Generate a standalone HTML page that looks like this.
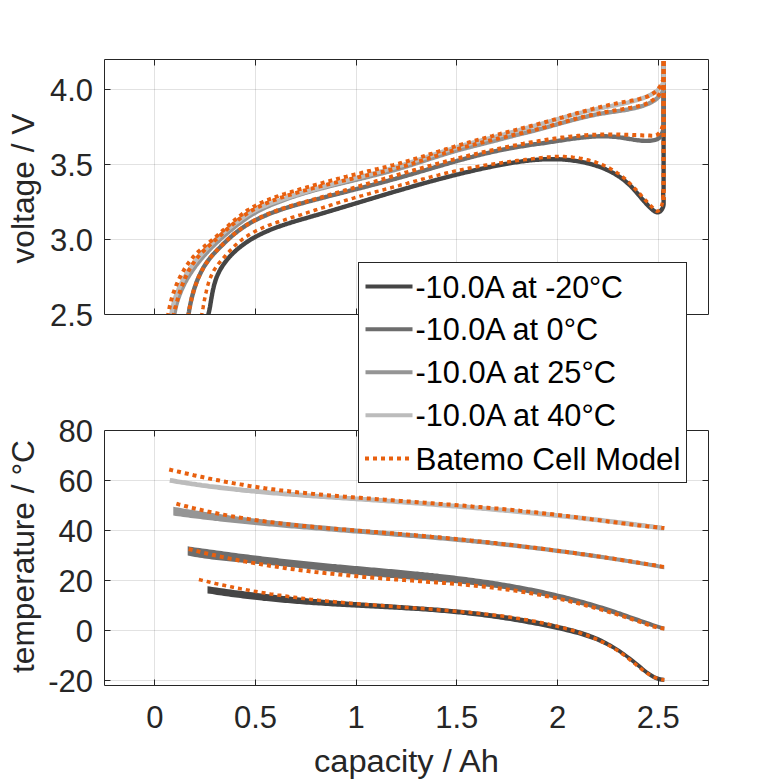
<!DOCTYPE html>
<html><head><meta charset="utf-8"><title>chart</title>
<style>html,body{margin:0;padding:0;background:#fff}svg{display:block}</style></head>
<body>
<svg width="781" height="781" viewBox="0 0 781 781">
<rect width="781" height="781" fill="#fff"/>
<defs><clipPath id="c1"><rect x="104.5" y="59.5" width="604" height="255"/></clipPath><clipPath id="c2"><rect x="104.5" y="430.5" width="604" height="255"/></clipPath></defs>
<path d="M154.5,59.5V314.5M154.5,430.5V685.5M255.5,59.5V314.5M255.5,430.5V685.5M356.5,59.5V314.5M356.5,430.5V685.5M456.5,59.5V314.5M456.5,430.5V685.5M557.5,59.5V314.5M557.5,430.5V685.5M658.5,59.5V314.5M658.5,430.5V685.5" stroke="#262626" stroke-opacity="0.135" stroke-width="1" fill="none"/>
<path d="M104.5,239.5H708.5M104.5,164.5H708.5M104.5,89.5H708.5M104.5,480.5H708.5M104.5,530.5H708.5M104.5,580.5H708.5M104.5,630.5H708.5M104.5,680.5H708.5" stroke="#262626" stroke-opacity="0.135" stroke-width="1" fill="none"/>
<g clip-path="url(#c1)" fill="none" stroke-linejoin="round">
<path d="M207.8,317.0 L208.1,315.7 L208.4,314.4 L208.7,313.1 L209.0,311.8 L209.3,310.4 L209.6,309.1 L209.8,307.7 L210.1,306.4 L210.3,305.0 L210.5,303.6 L210.8,302.2 L211.0,300.8 L211.2,299.4 L211.5,298.0 L211.7,296.6 L212.0,295.2 L212.2,293.8 L212.5,292.4 L212.8,291.0 L213.0,289.7 L213.4,288.3 L213.7,286.9 L214.0,285.5 L214.4,284.2 L214.8,282.8 L215.2,281.5 L215.6,280.1 L216.1,278.8 L216.5,277.5 L217.1,276.2 L217.6,275.0 L218.2,273.7 L218.8,272.5 L219.4,271.2 L220.1,270.0 L220.7,268.8 L221.4,267.7 L222.2,266.5 L222.9,265.3 L223.7,264.2 L224.5,263.1 L225.3,262.0 L226.2,260.9 L227.0,259.8 L227.9,258.7 L228.8,257.7 L229.7,256.6 L230.7,255.6 L231.6,254.6 L232.6,253.6 L233.6,252.7 L234.6,251.7 L235.7,250.8 L236.7,249.8 L237.8,248.9 L238.8,248.0 L239.9,247.2 L241.0,246.3 L242.1,245.5 L243.2,244.6 L244.4,243.8 L245.5,243.0 L246.6,242.2 L247.8,241.5 L249.0,240.7 L250.1,240.0 L251.3,239.2 L252.5,238.5 L253.7,237.8 L254.9,237.2 L256.1,236.5 L257.3,235.9 L258.6,235.2 L259.8,234.6 L261.0,234.0 L262.3,233.4 L263.5,232.8 L264.8,232.2 L266.0,231.7 L267.3,231.1 L268.6,230.6 L269.8,230.0 L271.1,229.5 L272.4,229.0 L273.7,228.5 L275.0,228.0 L276.3,227.5 L277.6,227.0 L278.9,226.6 L280.2,226.1 L281.5,225.7 L282.8,225.2 L284.2,224.8 L285.5,224.3 L286.8,223.9 L288.1,223.5 L289.5,223.1 L290.8,222.6 L292.1,222.2 L293.5,221.8 L294.8,221.4 L296.1,221.0 L297.5,220.6 L298.8,220.2 L300.2,219.8 L301.5,219.4 L302.8,219.0 L304.2,218.7 L305.5,218.3 L306.9,217.9 L308.2,217.5 L309.6,217.1 L310.9,216.7 L312.2,216.3 L313.6,215.9 L314.9,215.5 L316.3,215.2 L317.6,214.8 L318.9,214.4 L320.3,214.0 L321.6,213.6 L323.0,213.2 L324.3,212.8 L325.6,212.4 L327.0,212.0 L328.3,211.6 L329.6,211.2 L331.0,210.8 L332.3,210.4 L333.7,210.0 L335.0,209.6 L336.3,209.2 L337.7,208.8 L339.0,208.4 L340.3,208.0 L341.7,207.6 L343.0,207.2 L344.3,206.8 L345.7,206.4 L347.0,206.0 L348.3,205.6 L349.6,205.2 L351.0,204.8 L352.3,204.4 L353.6,204.0 L355.0,203.6 L356.3,203.2 L357.6,202.8 L359.0,202.4 L360.3,202.0 L361.6,201.6 L362.9,201.2 L364.3,200.8 L365.6,200.4 L366.9,200.0 L368.3,199.6 L369.6,199.2 L370.9,198.8 L372.3,198.4 L373.6,198.0 L374.9,197.6 L376.2,197.2 L377.6,196.8 L378.9,196.4 L380.2,196.0 L381.6,195.6 L382.9,195.2 L384.2,194.8 L385.5,194.4 L386.9,194.0 L388.2,193.6 L389.5,193.2 L390.9,192.8 L392.2,192.4 L393.5,192.0 L394.8,191.6 L396.2,191.2 L397.5,190.8 L398.8,190.5 L400.2,190.1 L401.5,189.7 L402.8,189.3 L404.2,188.9 L405.5,188.5 L406.8,188.1 L408.1,187.8 L409.5,187.4 L410.8,187.0 L412.1,186.6 L413.5,186.2 L414.8,185.8 L416.1,185.5 L417.5,185.1 L418.8,184.7 L420.1,184.3 L421.5,184.0 L422.8,183.6 L424.1,183.2 L425.5,182.9 L426.8,182.5 L428.2,182.1 L429.5,181.7 L430.8,181.4 L432.2,181.0 L433.5,180.7 L434.8,180.3 L436.2,179.9 L437.5,179.6 L438.9,179.2 L440.2,178.9 L441.5,178.5 L442.9,178.2 L444.2,177.8 L445.6,177.5 L446.9,177.1 L448.2,176.8 L449.6,176.4 L450.9,176.1 L452.3,175.7 L453.6,175.4 L455.0,175.1 L456.3,174.7 L457.7,174.4 L459.0,174.1 L460.4,173.7 L461.7,173.4 L463.1,173.1 L464.4,172.7 L465.8,172.4 L467.1,172.1 L468.5,171.8 L469.8,171.5 L471.2,171.2 L472.5,170.8 L473.9,170.5 L475.2,170.2 L476.6,169.9 L477.9,169.6 L479.3,169.3 L480.7,169.0 L482.0,168.7 L483.4,168.4 L484.7,168.1 L486.1,167.8 L487.5,167.5 L488.8,167.2 L490.2,167.0 L491.6,166.7 L492.9,166.4 L494.3,166.1 L495.7,165.8 L497.0,165.6 L498.4,165.3 L499.8,165.0 L501.1,164.8 L502.5,164.5 L503.9,164.3 L505.3,164.0 L506.6,163.8 L508.0,163.5 L509.4,163.3 L510.8,163.0 L512.1,162.8 L513.5,162.6 L514.9,162.4 L516.3,162.2 L517.7,162.0 L519.0,161.8 L520.4,161.6 L521.8,161.4 L523.2,161.2 L524.6,161.0 L525.9,160.8 L527.3,160.7 L528.7,160.5 L530.1,160.4 L531.5,160.2 L532.8,160.1 L534.2,160.0 L535.6,159.9 L537.0,159.8 L538.4,159.7 L539.8,159.6 L541.1,159.5 L542.5,159.4 L543.9,159.3 L545.3,159.3 L546.7,159.2 L548.0,159.2 L549.4,159.2 L550.8,159.2 L552.2,159.2 L553.6,159.2 L555.0,159.2 L556.3,159.2 L557.7,159.3 L559.1,159.3 L560.5,159.4 L561.9,159.4 L563.2,159.5 L564.6,159.6 L566.0,159.7 L567.4,159.9 L568.8,160.0 L570.1,160.1 L571.5,160.3 L572.9,160.5 L574.3,160.7 L575.6,160.9 L577.0,161.1 L578.4,161.3 L579.8,161.6 L581.1,161.8 L582.5,162.1 L583.9,162.4 L585.2,162.7 L586.6,163.0 L588.0,163.3 L589.3,163.7 L590.7,164.0 L592.0,164.4 L593.4,164.8 L594.7,165.2 L596.1,165.6 L597.4,166.1 L598.7,166.5 L600.0,167.0 L601.4,167.5 L602.7,168.0 L603.9,168.5 L605.2,169.1 L606.5,169.7 L607.8,170.2 L609.0,170.8 L610.3,171.4 L611.5,172.1 L612.7,172.7 L614.0,173.4 L615.2,174.1 L616.3,174.8 L617.5,175.5 L618.7,176.3 L619.8,177.0 L621.0,177.8 L622.1,178.6 L623.2,179.5 L624.3,180.3 L625.3,181.2 L626.4,182.1 L627.4,183.0 L628.4,183.9 L629.4,184.8 L630.4,185.8 L631.4,186.8 L632.3,187.8 L633.3,188.8 L634.2,189.8 L635.1,190.9 L636.0,191.9 L637.0,193.0 L637.9,194.0 L638.8,195.1 L639.7,196.1 L640.6,197.2 L641.5,198.3 L642.4,199.4 L643.4,200.4 L644.3,201.5 L645.3,202.5 L646.2,203.6 L647.2,204.6 L648.2,205.7 L649.2,206.7 L650.2,207.7 L651.3,208.7 L652.4,209.6 L653.4,210.5 L654.5,211.3 L655.6,211.9 L656.7,212.3 L657.8,212.4 L658.9,212.1 L659.9,211.6 L660.9,210.7 L661.7,209.7 L662.4,208.5 L663.0,207.1 L663.4,205.7 L663.6,204.2 L663.6,202.6 L663.6,201.1 L663.6,199.5 L663.5,198.0 L663.3,196.4 L663.2,195.0 L663.2,193.6 L663.2,192.3 L663.3,191.1 L663.6,190.0 L663.6,61.0" stroke="#454545" stroke-width="4.4"/>
<path d="M188.1,317.0 L188.3,315.7 L188.5,314.3 L188.7,313.0 L189.0,311.6 L189.2,310.2 L189.4,308.9 L189.7,307.5 L190.0,306.2 L190.2,304.8 L190.5,303.5 L190.8,302.1 L191.1,300.7 L191.4,299.4 L191.7,298.0 L192.1,296.7 L192.4,295.3 L192.8,294.0 L193.2,292.6 L193.5,291.3 L193.9,290.0 L194.3,288.6 L194.8,287.3 L195.2,286.0 L195.7,284.7 L196.1,283.4 L196.6,282.1 L197.1,280.8 L197.6,279.5 L198.2,278.2 L198.7,277.0 L199.3,275.7 L199.9,274.5 L200.5,273.2 L201.1,272.0 L201.7,270.8 L202.4,269.6 L203.0,268.4 L203.7,267.2 L204.4,266.0 L205.2,264.9 L205.9,263.7 L206.7,262.6 L207.5,261.5 L208.3,260.4 L209.1,259.3 L210.0,258.2 L210.8,257.1 L211.7,256.1 L212.6,255.0 L213.5,254.0 L214.5,253.0 L215.4,252.0 L216.4,251.0 L217.3,250.0 L218.3,249.0 L219.3,248.0 L220.3,247.0 L221.2,246.0 L222.2,245.1 L223.2,244.1 L224.2,243.1 L225.2,242.2 L226.2,241.2 L227.2,240.2 L228.3,239.3 L229.3,238.4 L230.3,237.4 L231.3,236.5 L232.4,235.6 L233.4,234.7 L234.5,233.8 L235.6,233.0 L236.6,232.1 L237.7,231.3 L238.8,230.4 L239.9,229.6 L241.1,228.8 L242.2,228.0 L243.3,227.2 L244.5,226.5 L245.6,225.7 L246.8,225.0 L248.0,224.3 L249.2,223.6 L250.3,222.9 L251.5,222.2 L252.8,221.6 L254.0,220.9 L255.2,220.3 L256.4,219.7 L257.7,219.1 L258.9,218.4 L260.2,217.9 L261.4,217.3 L262.7,216.7 L263.9,216.2 L265.2,215.6 L266.5,215.1 L267.8,214.5 L269.0,214.0 L270.3,213.5 L271.6,213.0 L272.9,212.5 L274.2,212.0 L275.5,211.6 L276.8,211.1 L278.1,210.6 L279.4,210.2 L280.7,209.7 L282.0,209.3 L283.3,208.8 L284.7,208.4 L286.0,208.0 L287.3,207.6 L288.6,207.2 L289.9,206.8 L291.3,206.4 L292.6,206.0 L293.9,205.6 L295.2,205.2 L296.6,204.8 L297.9,204.4 L299.2,204.1 L300.5,203.7 L301.9,203.3 L303.2,203.0 L304.5,202.6 L305.9,202.2 L307.2,201.9 L308.5,201.5 L309.9,201.1 L311.2,200.8 L312.5,200.4 L313.9,200.1 L315.2,199.7 L316.6,199.4 L317.9,199.0 L319.2,198.7 L320.6,198.3 L321.9,198.0 L323.2,197.6 L324.6,197.3 L325.9,196.9 L327.2,196.6 L328.6,196.2 L329.9,195.9 L331.2,195.5 L332.6,195.2 L333.9,194.9 L335.3,194.5 L336.6,194.2 L337.9,193.8 L339.3,193.5 L340.6,193.1 L341.9,192.8 L343.3,192.5 L344.6,192.1 L346.0,191.8 L347.3,191.4 L348.6,191.1 L350.0,190.7 L351.3,190.4 L352.6,190.1 L354.0,189.7 L355.3,189.4 L356.7,189.0 L358.0,188.7 L359.3,188.3 L360.7,188.0 L362.0,187.7 L363.3,187.3 L364.7,187.0 L366.0,186.6 L367.3,186.3 L368.7,185.9 L370.0,185.6 L371.4,185.2 L372.7,184.9 L374.0,184.5 L375.4,184.2 L376.7,183.8 L378.0,183.5 L379.4,183.1 L380.7,182.8 L382.0,182.4 L383.4,182.0 L384.7,181.7 L386.0,181.3 L387.4,181.0 L388.7,180.6 L390.0,180.2 L391.4,179.9 L392.7,179.5 L394.0,179.1 L395.4,178.8 L396.7,178.4 L398.0,178.0 L399.4,177.7 L400.7,177.3 L402.0,176.9 L403.4,176.5 L404.7,176.2 L406.0,175.8 L407.3,175.4 L408.7,175.0 L410.0,174.6 L411.3,174.3 L412.7,173.9 L414.0,173.5 L415.3,173.1 L416.6,172.7 L418.0,172.3 L419.3,171.9 L420.6,171.5 L421.9,171.1 L423.3,170.8 L424.6,170.4 L425.9,170.0 L427.3,169.6 L428.6,169.2 L429.9,168.8 L431.2,168.4 L432.6,168.0 L433.9,167.6 L435.2,167.2 L436.5,166.9 L437.9,166.5 L439.2,166.1 L440.5,165.7 L441.9,165.3 L443.2,164.9 L444.5,164.5 L445.8,164.1 L447.2,163.8 L448.5,163.4 L449.8,163.0 L451.2,162.6 L452.5,162.2 L453.8,161.9 L455.2,161.5 L456.5,161.1 L457.8,160.7 L459.1,160.4 L460.5,160.0 L461.8,159.6 L463.1,159.3 L464.5,158.9 L465.8,158.5 L467.1,158.2 L468.5,157.8 L469.8,157.5 L471.1,157.1 L472.5,156.8 L473.8,156.4 L475.2,156.1 L476.5,155.7 L477.8,155.4 L479.2,155.1 L480.5,154.7 L481.8,154.4 L483.2,154.1 L484.5,153.7 L485.9,153.4 L487.2,153.1 L488.6,152.8 L489.9,152.5 L491.2,152.2 L492.6,151.9 L493.9,151.5 L495.3,151.3 L496.6,151.0 L498.0,150.7 L499.3,150.4 L500.7,150.1 L502.0,149.8 L503.4,149.5 L504.7,149.3 L506.1,149.0 L507.4,148.8 L508.8,148.5 L510.1,148.2 L511.5,148.0 L512.9,147.8 L514.2,147.5 L515.6,147.3 L516.9,147.0 L518.3,146.8 L519.7,146.6 L521.0,146.4 L522.4,146.2 L523.8,146.0 L525.1,145.7 L526.5,145.5 L527.8,145.3 L529.2,145.1 L530.6,144.9 L531.9,144.7 L533.3,144.5 L534.7,144.3 L536.1,144.1 L537.4,143.9 L538.8,143.7 L540.2,143.6 L541.5,143.4 L542.9,143.2 L544.3,143.0 L545.6,142.8 L547.0,142.6 L548.4,142.4 L549.7,142.2 L551.1,141.9 L552.5,141.7 L553.9,141.5 L555.2,141.3 L556.6,141.1 L558.0,140.9 L559.3,140.7 L560.7,140.5 L562.1,140.3 L563.4,140.1 L564.8,139.8 L566.2,139.6 L567.5,139.4 L568.9,139.2 L570.3,139.0 L571.7,138.9 L573.0,138.7 L574.4,138.5 L575.8,138.3 L577.1,138.1 L578.5,138.0 L579.9,137.8 L581.2,137.6 L582.6,137.5 L584.0,137.3 L585.4,137.2 L586.7,137.1 L588.1,137.0 L589.5,136.8 L590.9,136.7 L592.2,136.6 L593.6,136.6 L595.0,136.5 L596.4,136.4 L597.7,136.4 L599.1,136.3 L600.5,136.3 L601.9,136.3 L603.2,136.3 L604.6,136.3 L606.0,136.3 L607.4,136.4 L608.8,136.4 L610.1,136.5 L611.5,136.6 L612.9,136.7 L614.3,136.8 L615.7,136.9 L617.1,137.0 L618.5,137.2 L619.8,137.4 L621.2,137.6 L622.6,137.8 L624.0,138.0 L625.4,138.2 L626.8,138.5 L628.2,138.7 L629.6,139.0 L630.9,139.2 L632.3,139.4 L633.7,139.7 L635.1,139.9 L636.5,140.1 L637.8,140.3 L639.2,140.4 L640.6,140.6 L641.9,140.7 L643.3,140.8 L644.6,140.9 L646.0,140.9 L647.3,140.9 L648.6,140.8 L649.9,140.7 L651.3,140.6 L652.6,140.4 L653.9,140.2 L655.1,139.9 L656.4,139.5 L657.5,139.0 L658.6,138.4 L659.6,137.6 L660.5,136.7 L661.3,135.5 L661.9,134.2 L662.4,132.8 L662.8,131.4 L663.2,129.9 L663.4,128.4 L663.6,127.0 L663.6,61.0" stroke="#6d6d6d" stroke-width="4.4"/>
<path d="M174.0,317.0 L174.2,315.5 L174.4,314.1 L174.6,312.7 L174.9,311.2 L175.2,309.8 L175.5,308.4 L175.8,307.0 L176.1,305.6 L176.5,304.2 L176.9,302.9 L177.3,301.5 L177.7,300.1 L178.1,298.8 L178.6,297.4 L179.1,296.1 L179.5,294.8 L180.1,293.5 L180.6,292.2 L181.1,290.9 L181.7,289.6 L182.3,288.3 L182.9,287.0 L183.5,285.8 L184.1,284.5 L184.7,283.2 L185.4,282.0 L186.1,280.8 L186.7,279.5 L187.4,278.3 L188.2,277.1 L188.9,275.9 L189.6,274.7 L190.4,273.5 L191.2,272.4 L191.9,271.2 L192.7,270.0 L193.5,268.9 L194.4,267.7 L195.2,266.6 L196.0,265.4 L196.9,264.3 L197.8,263.2 L198.6,262.1 L199.5,261.0 L200.4,259.9 L201.3,258.8 L202.3,257.7 L203.2,256.6 L204.1,255.6 L205.1,254.5 L206.0,253.4 L207.0,252.4 L208.0,251.3 L209.0,250.3 L209.9,249.3 L210.9,248.2 L211.9,247.2 L213.0,246.2 L214.0,245.2 L215.0,244.2 L216.0,243.2 L217.1,242.2 L218.1,241.3 L219.2,240.3 L220.2,239.3 L221.3,238.3 L222.4,237.4 L223.4,236.4 L224.5,235.5 L225.6,234.6 L226.7,233.6 L227.7,232.7 L228.8,231.8 L229.9,230.9 L231.0,230.0 L232.1,229.0 L233.2,228.1 L234.3,227.3 L235.4,226.4 L236.5,225.5 L237.7,224.6 L238.8,223.8 L239.9,222.9 L241.0,222.1 L242.2,221.2 L243.3,220.4 L244.5,219.6 L245.6,218.8 L246.8,218.0 L247.9,217.2 L249.1,216.4 L250.3,215.7 L251.5,214.9 L252.7,214.2 L253.9,213.5 L255.1,212.8 L256.3,212.1 L257.6,211.4 L258.8,210.7 L260.1,210.1 L261.3,209.4 L262.6,208.8 L263.9,208.2 L265.1,207.6 L266.4,207.0 L267.7,206.4 L269.0,205.9 L270.3,205.3 L271.6,204.8 L272.9,204.2 L274.3,203.7 L275.6,203.2 L276.9,202.6 L278.2,202.1 L279.5,201.6 L280.9,201.1 L282.2,200.6 L283.5,200.1 L284.8,199.6 L286.2,199.1 L287.5,198.7 L288.8,198.2 L290.2,197.7 L291.5,197.3 L292.9,196.8 L294.2,196.4 L295.5,195.9 L296.9,195.5 L298.2,195.1 L299.6,194.7 L300.9,194.2 L302.3,193.8 L303.7,193.4 L305.0,193.0 L306.4,192.6 L307.7,192.2 L309.1,191.8 L310.5,191.4 L311.8,191.0 L313.2,190.6 L314.5,190.2 L315.9,189.9 L317.3,189.5 L318.7,189.1 L320.0,188.7 L321.4,188.4 L322.8,188.0 L324.1,187.7 L325.5,187.3 L326.9,186.9 L328.3,186.6 L329.6,186.2 L331.0,185.9 L332.4,185.5 L333.8,185.2 L335.2,184.8 L336.5,184.5 L337.9,184.2 L339.3,183.8 L340.7,183.5 L342.1,183.1 L343.5,182.8 L344.8,182.5 L346.2,182.1 L347.6,181.8 L349.0,181.5 L350.4,181.1 L351.8,180.8 L353.1,180.5 L354.5,180.1 L355.9,179.8 L357.3,179.5 L358.7,179.1 L360.1,178.8 L361.4,178.5 L362.8,178.1 L364.2,177.8 L365.6,177.5 L367.0,177.1 L368.4,176.8 L369.7,176.4 L371.1,176.1 L372.5,175.7 L373.9,175.4 L375.3,175.1 L376.6,174.7 L378.0,174.4 L379.4,174.0 L380.8,173.6 L382.1,173.3 L383.5,172.9 L384.9,172.6 L386.3,172.2 L387.6,171.8 L389.0,171.5 L390.4,171.1 L391.7,170.7 L393.1,170.3 L394.5,170.0 L395.8,169.6 L397.2,169.2 L398.6,168.8 L399.9,168.4 L401.3,168.0 L402.7,167.6 L404.0,167.2 L405.4,166.7 L406.7,166.3 L408.1,165.9 L409.4,165.5 L410.8,165.1 L412.1,164.6 L413.5,164.2 L414.8,163.8 L416.2,163.3 L417.5,162.9 L418.9,162.5 L420.2,162.0 L421.6,161.6 L422.9,161.2 L424.3,160.7 L425.6,160.3 L427.0,159.8 L428.3,159.4 L429.7,159.0 L431.0,158.5 L432.4,158.1 L433.7,157.7 L435.1,157.2 L436.4,156.8 L437.8,156.4 L439.1,155.9 L440.5,155.5 L441.8,155.1 L443.2,154.6 L444.5,154.2 L445.9,153.8 L447.2,153.4 L448.6,153.0 L449.9,152.6 L451.3,152.2 L452.6,151.8 L454.0,151.4 L455.4,151.0 L456.7,150.6 L458.1,150.2 L459.5,149.8 L460.8,149.4 L462.2,149.1 L463.6,148.7 L464.9,148.3 L466.3,148.0 L467.7,147.6 L469.1,147.3 L470.4,146.9 L471.8,146.6 L473.2,146.2 L474.6,145.9 L475.9,145.5 L477.3,145.2 L478.7,144.8 L480.1,144.5 L481.4,144.1 L482.8,143.8 L484.2,143.4 L485.6,143.1 L486.9,142.7 L488.3,142.4 L489.7,142.0 L491.1,141.7 L492.4,141.3 L493.8,141.0 L495.2,140.6 L496.6,140.3 L497.9,139.9 L499.3,139.5 L500.7,139.2 L502.1,138.8 L503.4,138.4 L504.8,138.1 L506.2,137.7 L507.5,137.3 L508.9,137.0 L510.3,136.6 L511.7,136.3 L513.0,135.9 L514.4,135.6 L515.8,135.2 L517.2,134.9 L518.6,134.5 L519.9,134.2 L521.3,133.9 L522.7,133.5 L524.1,133.2 L525.5,132.8 L526.8,132.5 L528.2,132.2 L529.6,131.8 L531.0,131.5 L532.4,131.1 L533.7,130.8 L535.1,130.4 L536.5,130.0 L537.8,129.7 L539.2,129.3 L540.6,128.9 L541.9,128.6 L543.3,128.2 L544.7,127.8 L546.0,127.4 L547.4,127.1 L548.8,126.7 L550.1,126.3 L551.5,125.9 L552.9,125.5 L554.2,125.1 L555.6,124.8 L556.9,124.4 L558.3,124.0 L559.7,123.6 L561.0,123.2 L562.4,122.9 L563.7,122.5 L565.1,122.1 L566.5,121.7 L567.8,121.3 L569.2,121.0 L570.6,120.6 L571.9,120.2 L573.3,119.9 L574.7,119.5 L576.0,119.2 L577.4,118.8 L578.8,118.5 L580.2,118.1 L581.5,117.8 L582.9,117.5 L584.3,117.1 L585.7,116.8 L587.1,116.5 L588.4,116.2 L589.8,115.9 L591.2,115.6 L592.6,115.3 L594.0,115.0 L595.4,114.7 L596.8,114.4 L598.2,114.2 L599.6,113.9 L601.0,113.7 L602.4,113.4 L603.8,113.2 L605.2,113.0 L606.7,112.8 L608.1,112.5 L609.5,112.3 L610.9,112.1 L612.3,111.9 L613.8,111.7 L615.2,111.5 L616.6,111.3 L618.0,111.1 L619.4,110.9 L620.9,110.7 L622.3,110.4 L623.7,110.2 L625.1,110.0 L626.5,109.7 L627.9,109.5 L629.3,109.2 L630.7,108.9 L632.1,108.6 L633.5,108.3 L634.9,108.0 L636.3,107.7 L637.6,107.3 L639.0,107.0 L640.4,106.6 L641.7,106.2 L643.1,105.8 L644.4,105.3 L645.7,104.8 L647.0,104.3 L648.3,103.8 L649.5,103.2 L650.8,102.6 L652.0,101.9 L653.1,101.2 L654.3,100.5 L655.4,99.7 L656.5,98.8 L657.5,97.9 L658.5,97.0 L659.5,96.0 L660.4,94.9 L661.3,93.8 L662.1,92.6 L662.9,91.3 L663.6,90.0 L663.6,61.0" stroke="#959595" stroke-width="4.4"/>
<path d="M171.0,317.0 L171.2,315.5 L171.4,314.1 L171.6,312.6 L171.9,311.2 L172.1,309.7 L172.4,308.3 L172.7,306.9 L173.1,305.5 L173.4,304.1 L173.8,302.7 L174.2,301.3 L174.6,299.9 L175.0,298.6 L175.4,297.2 L175.9,295.9 L176.4,294.5 L176.9,293.2 L177.4,291.9 L178.0,290.6 L178.5,289.2 L179.1,287.9 L179.7,286.7 L180.3,285.4 L180.9,284.1 L181.5,282.8 L182.2,281.6 L182.9,280.3 L183.5,279.1 L184.2,277.8 L184.9,276.6 L185.7,275.4 L186.4,274.2 L187.2,273.0 L187.9,271.8 L188.7,270.6 L189.5,269.4 L190.3,268.2 L191.2,267.1 L192.0,265.9 L192.8,264.8 L193.7,263.6 L194.6,262.5 L195.5,261.4 L196.3,260.2 L197.2,259.1 L198.2,258.0 L199.1,256.9 L200.0,255.8 L201.0,254.7 L201.9,253.7 L202.9,252.6 L203.9,251.5 L204.8,250.5 L205.8,249.4 L206.8,248.4 L207.8,247.3 L208.8,246.3 L209.9,245.3 L210.9,244.3 L211.9,243.3 L213.0,242.2 L214.0,241.2 L215.1,240.3 L216.1,239.3 L217.2,238.3 L218.3,237.3 L219.4,236.4 L220.4,235.4 L221.5,234.4 L222.6,233.5 L223.7,232.6 L224.8,231.6 L225.9,230.7 L227.0,229.8 L228.1,228.9 L229.2,227.9 L230.4,227.0 L231.5,226.1 L232.6,225.3 L233.7,224.4 L234.8,223.5 L236.0,222.6 L237.1,221.8 L238.3,220.9 L239.4,220.1 L240.6,219.3 L241.7,218.4 L242.9,217.6 L244.1,216.8 L245.2,216.1 L246.4,215.3 L247.6,214.5 L248.8,213.8 L250.0,213.1 L251.3,212.4 L252.5,211.7 L253.7,211.0 L255.0,210.3 L256.3,209.7 L257.5,209.1 L258.8,208.4 L260.1,207.8 L261.4,207.3 L262.7,206.7 L264.1,206.1 L265.4,205.6 L266.7,205.1 L268.1,204.5 L269.4,204.0 L270.7,203.5 L272.1,203.0 L273.4,202.5 L274.8,202.0 L276.1,201.5 L277.5,201.1 L278.8,200.6 L280.2,200.1 L281.6,199.6 L282.9,199.2 L284.3,198.7 L285.6,198.3 L287.0,197.8 L288.4,197.4 L289.7,196.9 L291.1,196.5 L292.5,196.0 L293.8,195.6 L295.2,195.2 L296.6,194.7 L297.9,194.3 L299.3,193.9 L300.7,193.5 L302.0,193.1 L303.4,192.6 L304.8,192.2 L306.2,191.8 L307.5,191.4 L308.9,191.0 L310.3,190.6 L311.7,190.2 L313.0,189.8 L314.4,189.4 L315.8,189.0 L317.2,188.6 L318.6,188.3 L319.9,187.9 L321.3,187.5 L322.7,187.1 L324.1,186.7 L325.5,186.4 L326.8,186.0 L328.2,185.6 L329.6,185.2 L331.0,184.8 L332.4,184.5 L333.8,184.1 L335.1,183.7 L336.5,183.4 L337.9,183.0 L339.3,182.6 L340.7,182.3 L342.1,181.9 L343.5,181.5 L344.8,181.2 L346.2,180.8 L347.6,180.4 L349.0,180.1 L350.4,179.7 L351.8,179.3 L353.2,179.0 L354.5,178.6 L355.9,178.2 L357.3,177.9 L358.7,177.5 L360.1,177.1 L361.5,176.7 L362.9,176.4 L364.2,176.0 L365.6,175.6 L367.0,175.3 L368.4,174.9 L369.8,174.5 L371.2,174.1 L372.5,173.8 L373.9,173.4 L375.3,173.0 L376.7,172.6 L378.1,172.2 L379.4,171.8 L380.8,171.4 L382.2,171.1 L383.6,170.7 L385.0,170.3 L386.3,169.9 L387.7,169.5 L389.1,169.1 L390.5,168.7 L391.8,168.3 L393.2,167.8 L394.6,167.4 L396.0,167.0 L397.3,166.6 L398.7,166.2 L400.1,165.7 L401.4,165.3 L402.8,164.9 L404.2,164.5 L405.5,164.0 L406.9,163.6 L408.3,163.1 L409.6,162.7 L411.0,162.2 L412.4,161.8 L413.7,161.4 L415.1,160.9 L416.4,160.5 L417.8,160.0 L419.2,159.5 L420.5,159.1 L421.9,158.6 L423.2,158.2 L424.6,157.7 L426.0,157.3 L427.3,156.8 L428.7,156.4 L430.0,155.9 L431.4,155.4 L432.8,155.0 L434.1,154.5 L435.5,154.1 L436.8,153.6 L438.2,153.2 L439.6,152.7 L440.9,152.3 L442.3,151.8 L443.7,151.4 L445.0,151.0 L446.4,150.5 L447.7,150.1 L449.1,149.7 L450.5,149.2 L451.8,148.8 L453.2,148.4 L454.6,148.0 L456.0,147.5 L457.3,147.1 L458.7,146.7 L460.1,146.3 L461.4,145.9 L462.8,145.5 L464.2,145.1 L465.6,144.7 L466.9,144.4 L468.3,144.0 L469.7,143.6 L471.1,143.2 L472.4,142.8 L473.8,142.4 L475.2,142.1 L476.6,141.7 L478.0,141.3 L479.4,140.9 L480.7,140.6 L482.1,140.2 L483.5,139.8 L484.9,139.5 L486.3,139.1 L487.7,138.7 L489.0,138.4 L490.4,138.0 L491.8,137.6 L493.2,137.3 L494.6,136.9 L496.0,136.5 L497.4,136.1 L498.7,135.8 L500.1,135.4 L501.5,135.0 L502.9,134.6 L504.3,134.3 L505.7,133.9 L507.1,133.5 L508.4,133.1 L509.8,132.8 L511.2,132.4 L512.6,132.0 L514.0,131.6 L515.4,131.2 L516.8,130.8 L518.1,130.5 L519.5,130.1 L520.9,129.7 L522.3,129.3 L523.7,128.9 L525.1,128.5 L526.4,128.1 L527.8,127.7 L529.2,127.4 L530.6,127.0 L532.0,126.6 L533.3,126.2 L534.7,125.8 L536.1,125.4 L537.5,125.0 L538.8,124.6 L540.2,124.2 L541.6,123.8 L543.0,123.4 L544.3,123.0 L545.7,122.6 L547.1,122.2 L548.4,121.8 L549.8,121.4 L551.2,121.0 L552.6,120.6 L553.9,120.2 L555.3,119.8 L556.7,119.4 L558.0,119.0 L559.4,118.6 L560.8,118.2 L562.2,117.8 L563.5,117.5 L564.9,117.1 L566.3,116.7 L567.7,116.3 L569.0,115.9 L570.4,115.5 L571.8,115.2 L573.2,114.8 L574.5,114.4 L575.9,114.1 L577.3,113.7 L578.7,113.3 L580.1,113.0 L581.5,112.6 L582.8,112.3 L584.2,111.9 L585.6,111.6 L587.0,111.2 L588.4,110.9 L589.8,110.6 L591.2,110.2 L592.6,109.9 L594.0,109.6 L595.4,109.3 L596.8,109.0 L598.2,108.7 L599.6,108.4 L601.0,108.1 L602.4,107.8 L603.8,107.5 L605.3,107.2 L606.7,106.9 L608.1,106.7 L609.5,106.4 L610.9,106.1 L612.3,105.8 L613.8,105.6 L615.2,105.3 L616.6,105.0 L618.0,104.7 L619.4,104.4 L620.8,104.1 L622.3,103.8 L623.7,103.5 L625.1,103.2 L626.5,102.9 L627.9,102.6 L629.3,102.2 L630.7,101.9 L632.0,101.5 L633.4,101.1 L634.8,100.7 L636.2,100.3 L637.5,99.9 L638.9,99.5 L640.2,99.0 L641.6,98.6 L642.9,98.1 L644.3,97.6 L645.6,97.0 L646.9,96.5 L648.2,95.9 L649.5,95.3 L650.8,94.7 L652.0,94.0 L653.3,93.3 L654.5,92.6 L655.6,91.8 L656.7,91.0 L657.8,90.1 L658.8,89.1 L659.8,88.1 L660.7,87.0 L661.5,85.9 L662.3,84.7 L663.0,83.4 L663.6,82.0 L663.6,61.0" stroke="#bcbcbc" stroke-width="4.4"/>
<path d="M201.2,317.0 L201.5,315.7 L201.8,314.4 L202.0,313.0 L202.3,311.7 L202.6,310.3 L202.8,309.0 L203.1,307.6 L203.3,306.2 L203.6,304.8 L203.8,303.4 L204.1,302.0 L204.3,300.6 L204.6,299.2 L204.9,297.8 L205.2,296.4 L205.4,295.0 L205.7,293.6 L206.1,292.2 L206.4,290.8 L206.7,289.4 L207.1,288.0 L207.4,286.6 L207.8,285.2 L208.2,283.9 L208.6,282.5 L209.1,281.2 L209.5,279.9 L210.0,278.6 L210.6,277.3 L211.1,276.0 L211.7,274.7 L212.3,273.5 L212.9,272.3 L213.6,271.1 L214.2,269.9 L215.0,268.7 L215.7,267.6 L216.5,266.4 L217.3,265.3 L218.1,264.2 L219.0,263.2 L219.9,262.1 L220.8,261.0 L221.7,259.9 L222.6,258.9 L223.5,257.8 L224.4,256.8 L225.4,255.7 L226.3,254.6 L227.3,253.6 L228.3,252.5 L229.3,251.5 L230.2,250.4 L231.2,249.4 L232.2,248.3 L233.3,247.3 L234.3,246.3 L235.3,245.3 L236.4,244.3 L237.4,243.4 L238.5,242.4 L239.6,241.5 L240.7,240.6 L241.8,239.8 L242.9,238.9 L244.0,238.1 L245.2,237.3 L246.3,236.5 L247.5,235.8 L248.7,235.0 L249.9,234.3 L251.1,233.6 L252.3,232.9 L253.5,232.2 L254.7,231.6 L255.9,230.9 L257.2,230.3 L258.4,229.7 L259.7,229.1 L260.9,228.6 L262.2,228.0 L263.5,227.4 L264.8,226.9 L266.1,226.4 L267.4,225.9 L268.7,225.3 L270.0,224.8 L271.3,224.4 L272.6,223.9 L273.9,223.4 L275.2,222.9 L276.6,222.5 L277.9,222.0 L279.2,221.6 L280.6,221.1 L281.9,220.7 L283.2,220.3 L284.6,219.9 L285.9,219.4 L287.3,219.0 L288.6,218.6 L290.0,218.2 L291.3,217.7 L292.7,217.3 L294.0,216.9 L295.3,216.5 L296.7,216.0 L298.0,215.6 L299.4,215.2 L300.7,214.8 L302.1,214.3 L303.4,213.9 L304.7,213.5 L306.1,213.1 L307.4,212.6 L308.7,212.2 L310.1,211.8 L311.4,211.3 L312.8,210.9 L314.1,210.5 L315.4,210.0 L316.8,209.6 L318.1,209.2 L319.4,208.8 L320.8,208.3 L322.1,207.9 L323.4,207.5 L324.8,207.0 L326.1,206.6 L327.5,206.2 L328.8,205.8 L330.1,205.3 L331.5,204.9 L332.8,204.5 L334.1,204.1 L335.5,203.6 L336.8,203.2 L338.1,202.8 L339.5,202.4 L340.8,202.0 L342.2,201.6 L343.5,201.1 L344.8,200.7 L346.2,200.3 L347.5,199.9 L348.9,199.5 L350.2,199.1 L351.6,198.7 L352.9,198.3 L354.3,197.9 L355.6,197.5 L356.9,197.1 L358.3,196.7 L359.6,196.3 L361.0,195.9 L362.3,195.6 L363.7,195.2 L365.1,194.8 L366.4,194.4 L367.8,194.0 L369.1,193.7 L370.5,193.3 L371.8,192.9 L373.2,192.5 L374.5,192.2 L375.9,191.8 L377.2,191.4 L378.6,191.1 L380.0,190.7 L381.3,190.3 L382.7,190.0 L384.0,189.6 L385.4,189.2 L386.7,188.9 L388.1,188.5 L389.5,188.1 L390.8,187.8 L392.2,187.4 L393.5,187.0 L394.9,186.7 L396.2,186.3 L397.6,185.9 L399.0,185.6 L400.3,185.2 L401.7,184.8 L403.0,184.5 L404.4,184.1 L405.7,183.7 L407.1,183.4 L408.4,183.0 L409.8,182.6 L411.1,182.3 L412.5,181.9 L413.9,181.5 L415.2,181.1 L416.6,180.8 L417.9,180.4 L419.3,180.0 L420.6,179.7 L422.0,179.3 L423.3,178.9 L424.7,178.6 L426.0,178.2 L427.4,177.9 L428.7,177.5 L430.1,177.1 L431.4,176.8 L432.8,176.4 L434.2,176.1 L435.5,175.7 L436.9,175.4 L438.2,175.1 L439.6,174.7 L441.0,174.4 L442.3,174.0 L443.7,173.7 L445.0,173.4 L446.4,173.0 L447.8,172.7 L449.1,172.4 L450.5,172.1 L451.9,171.8 L453.2,171.5 L454.6,171.1 L456.0,170.8 L457.3,170.5 L458.7,170.3 L460.1,170.0 L461.5,169.7 L462.9,169.4 L464.2,169.1 L465.6,168.8 L467.0,168.6 L468.4,168.3 L469.8,168.0 L471.1,167.8 L472.5,167.5 L473.9,167.2 L475.3,167.0 L476.7,166.7 L478.1,166.5 L479.5,166.3 L480.8,166.0 L482.2,165.8 L483.6,165.5 L485.0,165.3 L486.4,165.1 L487.8,164.9 L489.2,164.6 L490.6,164.4 L492.0,164.2 L493.4,164.0 L494.8,163.8 L496.2,163.6 L497.6,163.4 L498.9,163.1 L500.3,162.9 L501.7,162.7 L503.1,162.5 L504.5,162.3 L505.9,162.1 L507.3,162.0 L508.7,161.8 L510.1,161.6 L511.5,161.4 L512.9,161.2 L514.3,161.0 L515.7,160.8 L517.1,160.6 L518.5,160.5 L519.8,160.3 L521.2,160.1 L522.6,159.9 L524.0,159.8 L525.4,159.6 L526.8,159.4 L528.2,159.2 L529.6,159.1 L531.0,158.9 L532.3,158.7 L533.7,158.6 L535.1,158.4 L536.5,158.2 L537.9,158.1 L539.3,157.9 L540.6,157.7 L542.0,157.6 L543.4,157.4 L544.8,157.3 L546.2,157.2 L547.6,157.1 L549.0,157.0 L550.3,156.9 L551.7,156.8 L553.1,156.7 L554.5,156.6 L555.9,156.6 L557.3,156.5 L558.7,156.5 L560.1,156.5 L561.5,156.5 L563.0,156.6 L564.4,156.6 L565.8,156.7 L567.2,156.8 L568.6,156.9 L570.0,157.0 L571.4,157.1 L572.9,157.3 L574.3,157.4 L575.7,157.6 L577.1,157.8 L578.5,158.0 L579.9,158.3 L581.3,158.5 L582.7,158.8 L584.1,159.1 L585.5,159.4 L586.9,159.7 L588.3,160.0 L589.6,160.4 L591.0,160.8 L592.4,161.2 L593.7,161.6 L595.1,162.0 L596.4,162.5 L597.7,162.9 L599.0,163.4 L600.4,163.9 L601.7,164.4 L603.0,165.0 L604.2,165.6 L605.5,166.1 L606.8,166.7 L608.0,167.4 L609.3,168.0 L610.5,168.7 L611.7,169.4 L612.9,170.1 L614.1,170.8 L615.3,171.5 L616.5,172.3 L617.6,173.1 L618.8,173.9 L619.9,174.7 L621.0,175.5 L622.1,176.4 L623.2,177.3 L624.2,178.2 L625.3,179.1 L626.3,180.0 L627.4,181.0 L628.4,181.9 L629.4,182.9 L630.4,183.9 L631.4,184.9 L632.4,185.9 L633.4,186.9 L634.3,187.9 L635.3,188.9 L636.3,190.0 L637.2,191.0 L638.2,192.0 L639.1,193.1 L640.1,194.1 L641.0,195.2 L642.0,196.2 L642.9,197.3 L643.9,198.3 L644.8,199.4 L645.8,200.4 L646.7,201.5 L647.7,202.5 L648.6,203.6 L649.6,204.6 L650.5,205.6 L651.5,206.6 L652.5,207.6 L653.5,208.6 L654.5,209.6 L655.5,210.5 L656.5,211.1 L657.5,211.3 L658.5,210.8 L659.4,209.8 L660.3,208.5 L661.1,207.0 L661.7,205.5 L662.1,204.0 L662.5,202.6 L662.7,201.1 L662.8,199.7 L662.9,198.3 L663.0,196.9 L663.1,195.5 L663.1,194.1 L663.2,192.7 L663.4,191.4 L663.6,190.0" stroke="#e8600f" stroke-width="3.5" stroke-dasharray="4 4"/>
<path d="M188.1,317.0 L188.3,315.6 L188.5,314.3 L188.7,312.9 L189.0,311.6 L189.2,310.2 L189.4,308.9 L189.7,307.5 L189.9,306.1 L190.2,304.8 L190.5,303.4 L190.8,302.1 L191.1,300.7 L191.4,299.4 L191.7,298.0 L192.1,296.7 L192.4,295.3 L192.8,294.0 L193.2,292.6 L193.5,291.3 L193.9,290.0 L194.4,288.6 L194.8,287.3 L195.2,286.0 L195.7,284.7 L196.2,283.4 L196.6,282.1 L197.1,280.8 L197.7,279.5 L198.2,278.2 L198.7,277.0 L199.3,275.7 L199.9,274.5 L200.5,273.2 L201.1,272.0 L201.7,270.8 L202.4,269.6 L203.1,268.4 L203.7,267.2 L204.5,266.0 L205.2,264.8 L205.9,263.7 L206.7,262.5 L207.5,261.4 L208.3,260.3 L209.1,259.2 L210.0,258.1 L210.8,257.0 L211.7,256.0 L212.6,254.9 L213.5,253.9 L214.4,252.8 L215.4,251.8 L216.3,250.8 L217.3,249.8 L218.2,248.8 L219.2,247.8 L220.2,246.8 L221.2,245.8 L222.2,244.9 L223.2,243.9 L224.2,242.9 L225.2,242.0 L226.2,241.0 L227.2,240.1 L228.2,239.1 L229.2,238.2 L230.3,237.3 L231.3,236.4 L232.4,235.5 L233.4,234.6 L234.5,233.7 L235.5,232.9 L236.6,232.0 L237.7,231.2 L238.8,230.3 L239.9,229.5 L241.0,228.7 L242.2,227.9 L243.3,227.1 L244.4,226.4 L245.6,225.6 L246.8,224.9 L247.9,224.1 L249.1,223.4 L250.3,222.7 L251.5,222.0 L252.7,221.3 L253.9,220.7 L255.1,220.0 L256.4,219.4 L257.6,218.7 L258.8,218.1 L260.1,217.5 L261.3,216.9 L262.6,216.3 L263.8,215.7 L265.1,215.2 L266.4,214.6 L267.6,214.1 L268.9,213.5 L270.2,213.0 L271.5,212.5 L272.8,212.0 L274.1,211.5 L275.4,211.0 L276.7,210.5 L278.0,210.1 L279.3,209.6 L280.6,209.2 L281.9,208.7 L283.2,208.3 L284.5,207.9 L285.8,207.4 L287.1,207.0 L288.4,206.6 L289.8,206.2 L291.1,205.8 L292.4,205.4 L293.7,205.0 L295.1,204.7 L296.4,204.3 L297.7,203.9 L299.1,203.5 L300.4,203.1 L301.7,202.8 L303.0,202.4 L304.4,202.0 L305.7,201.7 L307.0,201.3 L308.4,200.9 L309.7,200.6 L311.0,200.2 L312.4,199.8 L313.7,199.4 L315.0,199.1 L316.4,198.7 L317.7,198.3 L319.0,197.9 L320.3,197.6 L321.7,197.2 L323.0,196.8 L324.3,196.4 L325.7,196.0 L327.0,195.7 L328.3,195.3 L329.6,194.9 L331.0,194.5 L332.3,194.1 L333.6,193.7 L335.0,193.4 L336.3,193.0 L337.6,192.6 L338.9,192.2 L340.3,191.8 L341.6,191.4 L342.9,191.0 L344.3,190.6 L345.6,190.2 L346.9,189.9 L348.2,189.5 L349.6,189.1 L350.9,188.7 L352.2,188.3 L353.5,187.9 L354.9,187.5 L356.2,187.1 L357.5,186.7 L358.8,186.3 L360.2,185.9 L361.5,185.5 L362.8,185.1 L364.2,184.8 L365.5,184.4 L366.8,184.0 L368.1,183.6 L369.5,183.2 L370.8,182.8 L372.1,182.4 L373.4,182.0 L374.8,181.6 L376.1,181.2 L377.4,180.8 L378.7,180.4 L380.1,180.0 L381.4,179.6 L382.7,179.3 L384.0,178.9 L385.4,178.5 L386.7,178.1 L388.0,177.7 L389.4,177.3 L390.7,176.9 L392.0,176.5 L393.3,176.1 L394.7,175.8 L396.0,175.4 L397.3,175.0 L398.7,174.6 L400.0,174.2 L401.3,173.8 L402.6,173.4 L404.0,173.1 L405.3,172.7 L406.6,172.3 L408.0,171.9 L409.3,171.5 L410.6,171.2 L411.9,170.8 L413.3,170.4 L414.6,170.0 L415.9,169.7 L417.3,169.3 L418.6,168.9 L419.9,168.5 L421.3,168.2 L422.6,167.8 L423.9,167.4 L425.3,167.0 L426.6,166.7 L427.9,166.3 L429.3,165.9 L430.6,165.6 L431.9,165.2 L433.3,164.9 L434.6,164.5 L435.9,164.1 L437.3,163.8 L438.6,163.4 L439.9,163.1 L441.3,162.7 L442.6,162.3 L443.9,162.0 L445.3,161.6 L446.6,161.3 L447.9,160.9 L449.3,160.6 L450.6,160.2 L452.0,159.9 L453.3,159.6 L454.6,159.2 L456.0,158.9 L457.3,158.5 L458.7,158.2 L460.0,157.8 L461.3,157.5 L462.7,157.2 L464.0,156.8 L465.4,156.5 L466.7,156.2 L468.0,155.8 L469.4,155.5 L470.7,155.2 L472.1,154.9 L473.4,154.5 L474.8,154.2 L476.1,153.9 L477.4,153.6 L478.8,153.3 L480.1,152.9 L481.5,152.6 L482.8,152.3 L484.2,152.0 L485.5,151.7 L486.9,151.4 L488.2,151.1 L489.6,150.8 L490.9,150.5 L492.2,150.2 L493.6,149.9 L494.9,149.6 L496.3,149.3 L497.6,149.0 L499.0,148.7 L500.3,148.4 L501.7,148.1 L503.1,147.8 L504.4,147.6 L505.8,147.3 L507.1,147.0 L508.5,146.7 L509.8,146.4 L511.2,146.2 L512.5,145.9 L513.9,145.6 L515.2,145.4 L516.6,145.1 L518.0,144.8 L519.3,144.6 L520.7,144.3 L522.0,144.0 L523.4,143.8 L524.7,143.5 L526.1,143.3 L527.5,143.0 L528.8,142.8 L530.2,142.5 L531.5,142.3 L532.9,142.1 L534.3,141.8 L535.6,141.6 L537.0,141.4 L538.4,141.1 L539.7,140.9 L541.1,140.7 L542.5,140.4 L543.8,140.2 L545.2,140.0 L546.6,139.8 L547.9,139.6 L549.3,139.4 L550.7,139.2 L552.0,139.0 L553.4,138.8 L554.8,138.6 L556.1,138.4 L557.5,138.2 L558.9,138.0 L560.3,137.8 L561.6,137.6 L563.0,137.5 L564.4,137.3 L565.8,137.1 L567.1,137.0 L568.5,136.8 L569.9,136.7 L571.3,136.5 L572.6,136.4 L574.0,136.2 L575.4,136.1 L576.8,136.0 L578.1,135.8 L579.5,135.7 L580.9,135.6 L582.3,135.5 L583.6,135.4 L585.0,135.3 L586.4,135.2 L587.8,135.1 L589.2,135.0 L590.5,134.9 L591.9,134.8 L593.3,134.8 L594.7,134.7 L596.1,134.7 L597.5,134.6 L598.8,134.6 L600.2,134.5 L601.6,134.5 L603.0,134.5 L604.4,134.4 L605.8,134.4 L607.1,134.4 L608.5,134.4 L609.9,134.4 L611.3,134.4 L612.7,134.4 L614.1,134.4 L615.4,134.4 L616.8,134.5 L618.2,134.5 L619.6,134.5 L621.0,134.6 L622.4,134.6 L623.7,134.6 L625.1,134.7 L626.5,134.7 L627.9,134.8 L629.3,134.8 L630.6,134.9 L632.0,134.9 L633.4,135.0 L634.8,135.0 L636.1,135.1 L637.5,135.1 L638.9,135.2 L640.3,135.2 L641.6,135.3 L643.0,135.4 L644.4,135.4 L645.7,135.5 L647.1,135.5 L648.4,135.6 L649.8,135.6 L651.2,135.7 L652.5,135.7 L653.8,135.6 L655.1,135.5 L656.3,135.2 L657.4,134.7 L658.4,134.0 L659.4,133.0 L660.2,131.8 L660.9,130.5 L661.6,129.1 L662.1,127.6 L662.6,126.1 L663.0,124.6 L663.3,123.2 L663.6,122.0" stroke="#e8600f" stroke-width="4" stroke-dasharray="4 4"/>
<path d="M173.0,317.0 L173.3,315.6 L173.7,314.3 L174.0,312.9 L174.3,311.5 L174.7,310.2 L175.0,308.8 L175.4,307.4 L175.8,306.0 L176.1,304.6 L176.5,303.2 L176.9,301.9 L177.3,300.5 L177.7,299.1 L178.1,297.7 L178.5,296.3 L178.9,294.9 L179.4,293.5 L179.8,292.1 L180.3,290.8 L180.7,289.4 L181.2,288.0 L181.7,286.6 L182.2,285.3 L182.7,283.9 L183.3,282.6 L183.8,281.2 L184.4,279.9 L184.9,278.6 L185.5,277.2 L186.1,275.9 L186.7,274.6 L187.4,273.3 L188.0,272.1 L188.7,270.8 L189.4,269.5 L190.1,268.3 L190.8,267.1 L191.5,265.9 L192.3,264.6 L193.1,263.5 L193.9,262.3 L194.7,261.1 L195.5,260.0 L196.4,258.9 L197.2,257.8 L198.1,256.7 L199.1,255.6 L200.0,254.5 L200.9,253.5 L201.9,252.5 L202.9,251.5 L203.9,250.5 L205.0,249.5 L206.0,248.5 L207.0,247.5 L208.1,246.6 L209.1,245.6 L210.2,244.7 L211.3,243.7 L212.3,242.7 L213.4,241.8 L214.5,240.8 L215.5,239.8 L216.6,238.9 L217.7,237.9 L218.7,236.9 L219.8,235.9 L220.9,235.0 L221.9,234.0 L223.0,233.0 L224.1,232.0 L225.2,231.0 L226.2,230.1 L227.3,229.1 L228.4,228.1 L229.5,227.2 L230.6,226.2 L231.7,225.3 L232.8,224.3 L233.9,223.4 L235.0,222.5 L236.1,221.6 L237.3,220.7 L238.4,219.8 L239.5,218.9 L240.7,218.0 L241.8,217.2 L243.0,216.3 L244.1,215.5 L245.3,214.7 L246.5,213.9 L247.7,213.1 L248.9,212.3 L250.1,211.6 L251.3,210.8 L252.5,210.1 L253.8,209.4 L255.0,208.7 L256.3,208.0 L257.5,207.4 L258.8,206.7 L260.0,206.1 L261.3,205.5 L262.6,204.9 L263.9,204.3 L265.2,203.7 L266.5,203.1 L267.8,202.6 L269.1,202.0 L270.5,201.5 L271.8,201.0 L273.1,200.5 L274.5,199.9 L275.8,199.5 L277.2,199.0 L278.5,198.5 L279.9,198.0 L281.2,197.5 L282.6,197.1 L283.9,196.6 L285.3,196.2 L286.7,195.8 L288.0,195.3 L289.4,194.9 L290.8,194.5 L292.2,194.1 L293.5,193.6 L294.9,193.2 L296.3,192.8 L297.7,192.4 L299.0,192.0 L300.4,191.6 L301.8,191.2 L303.2,190.8 L304.6,190.4 L306.0,190.1 L307.3,189.7 L308.7,189.3 L310.1,188.9 L311.5,188.6 L312.9,188.2 L314.3,187.8 L315.7,187.5 L317.1,187.1 L318.4,186.7 L319.8,186.4 L321.2,186.0 L322.6,185.7 L324.0,185.3 L325.4,185.0 L326.8,184.6 L328.2,184.3 L329.6,183.9 L331.0,183.6 L332.4,183.3 L333.8,182.9 L335.2,182.6 L336.6,182.3 L338.0,181.9 L339.4,181.6 L340.7,181.3 L342.1,180.9 L343.5,180.6 L344.9,180.3 L346.3,180.0 L347.7,179.7 L349.1,179.3 L350.5,179.0 L351.9,178.7 L353.3,178.4 L354.7,178.1 L356.1,177.8 L357.5,177.4 L358.9,177.1 L360.3,176.8 L361.7,176.5 L363.1,176.2 L364.5,175.9 L365.9,175.6 L367.3,175.3 L368.7,174.9 L370.1,174.6 L371.5,174.3 L372.9,174.0 L374.3,173.7 L375.7,173.4 L377.1,173.0 L378.5,172.7 L379.9,172.4 L381.3,172.1 L382.7,171.7 L384.1,171.4 L385.5,171.0 L386.8,170.7 L388.2,170.4 L389.6,170.0 L391.0,169.7 L392.4,169.3 L393.8,168.9 L395.2,168.6 L396.5,168.2 L397.9,167.8 L399.3,167.4 L400.7,167.1 L402.1,166.7 L403.4,166.3 L404.8,165.9 L406.2,165.5 L407.6,165.0 L408.9,164.6 L410.3,164.2 L411.7,163.8 L413.1,163.4 L414.4,162.9 L415.8,162.5 L417.2,162.1 L418.5,161.6 L419.9,161.2 L421.3,160.7 L422.6,160.3 L424.0,159.8 L425.4,159.4 L426.7,158.9 L428.1,158.5 L429.5,158.0 L430.8,157.6 L432.2,157.1 L433.6,156.7 L434.9,156.2 L436.3,155.8 L437.7,155.3 L439.0,154.9 L440.4,154.4 L441.8,154.0 L443.1,153.6 L444.5,153.1 L445.9,152.7 L447.2,152.2 L448.6,151.8 L450.0,151.4 L451.3,151.0 L452.7,150.5 L454.1,150.1 L455.4,149.7 L456.8,149.3 L458.2,148.9 L459.6,148.5 L460.9,148.1 L462.3,147.7 L463.7,147.3 L465.1,146.9 L466.4,146.5 L467.8,146.2 L469.2,145.8 L470.6,145.4 L472.0,145.0 L473.4,144.7 L474.7,144.3 L476.1,144.0 L477.5,143.6 L478.9,143.2 L480.3,142.9 L481.7,142.5 L483.1,142.2 L484.4,141.9 L485.8,141.5 L487.2,141.2 L488.6,140.8 L490.0,140.5 L491.4,140.2 L492.8,139.8 L494.2,139.5 L495.6,139.2 L497.0,138.8 L498.4,138.5 L499.7,138.2 L501.1,137.8 L502.5,137.5 L503.9,137.2 L505.3,136.9 L506.7,136.5 L508.1,136.2 L509.5,135.9 L510.9,135.6 L512.3,135.2 L513.7,134.9 L515.1,134.6 L516.5,134.3 L517.9,133.9 L519.3,133.6 L520.7,133.3 L522.1,133.0 L523.5,132.6 L524.8,132.3 L526.2,132.0 L527.6,131.6 L529.0,131.3 L530.4,130.9 L531.8,130.6 L533.2,130.3 L534.6,129.9 L536.0,129.6 L537.4,129.2 L538.8,128.9 L540.2,128.5 L541.6,128.2 L543.0,127.8 L544.4,127.4 L545.8,127.1 L547.2,126.7 L548.5,126.3 L549.9,126.0 L551.3,125.6 L552.7,125.2 L554.1,124.8 L555.5,124.4 L556.9,124.0 L558.3,123.6 L559.7,123.3 L561.0,122.9 L562.4,122.5 L563.8,122.1 L565.2,121.7 L566.6,121.3 L568.0,120.9 L569.4,120.5 L570.7,120.1 L572.1,119.8 L573.5,119.4 L574.9,119.0 L576.3,118.6 L577.6,118.3 L579.0,117.9 L580.4,117.6 L581.8,117.2 L583.1,116.9 L584.5,116.6 L585.9,116.2 L587.3,115.9 L588.6,115.6 L590.0,115.3 L591.4,115.0 L592.7,114.7 L594.1,114.4 L595.5,114.1 L596.9,113.8 L598.3,113.5 L599.6,113.2 L601.0,112.9 L602.4,112.7 L603.8,112.4 L605.2,112.1 L606.6,111.9 L608.0,111.6 L609.4,111.4 L610.8,111.1 L612.2,110.9 L613.6,110.6 L615.1,110.4 L616.5,110.1 L617.9,109.9 L619.4,109.6 L620.8,109.4 L622.2,109.2 L623.7,108.9 L625.2,108.7 L626.6,108.4 L628.1,108.2 L629.6,107.9 L631.0,107.7 L632.5,107.4 L633.9,107.1 L635.4,106.8 L636.8,106.5 L638.2,106.2 L639.6,105.8 L641.0,105.4 L642.4,105.0 L643.7,104.5 L645.1,104.1 L646.4,103.6 L647.7,103.0 L648.9,102.4 L650.1,101.8 L651.3,101.1 L652.5,100.4 L653.6,99.6 L654.7,98.8 L655.7,98.0 L656.7,97.1 L657.7,96.1 L658.6,95.1 L659.5,94.0 L660.3,92.8 L661.1,91.6 L661.8,90.3 L662.5,88.9 L663.1,87.5 L663.6,86.0" stroke="#e8600f" stroke-width="4" stroke-dasharray="4 4"/>
<path d="M167.8,317.0 L168.0,315.6 L168.2,314.2 L168.5,312.8 L168.7,311.4 L169.0,309.9 L169.3,308.5 L169.6,307.1 L169.9,305.7 L170.3,304.3 L170.6,302.9 L171.0,301.5 L171.3,300.0 L171.7,298.6 L172.1,297.2 L172.6,295.8 L173.0,294.4 L173.5,293.0 L173.9,291.7 L174.4,290.3 L174.9,288.9 L175.5,287.5 L176.0,286.1 L176.5,284.8 L177.1,283.4 L177.7,282.1 L178.3,280.7 L178.9,279.4 L179.5,278.1 L180.2,276.8 L180.9,275.5 L181.5,274.2 L182.2,272.9 L183.0,271.6 L183.7,270.4 L184.4,269.1 L185.2,267.9 L186.0,266.7 L186.8,265.5 L187.6,264.3 L188.4,263.1 L189.3,261.9 L190.2,260.8 L191.0,259.7 L192.0,258.5 L192.9,257.4 L193.8,256.4 L194.8,255.3 L195.8,254.3 L196.8,253.3 L197.8,252.3 L198.9,251.3 L199.9,250.3 L201.0,249.4 L202.1,248.4 L203.2,247.5 L204.3,246.6 L205.4,245.6 L206.5,244.7 L207.6,243.8 L208.8,242.9 L209.9,241.9 L211.0,241.0 L212.1,240.1 L213.2,239.1 L214.3,238.2 L215.5,237.2 L216.6,236.2 L217.7,235.3 L218.8,234.3 L219.9,233.3 L220.9,232.3 L222.0,231.3 L223.1,230.4 L224.2,229.4 L225.3,228.4 L226.4,227.4 L227.5,226.4 L228.6,225.4 L229.7,224.4 L230.8,223.5 L231.9,222.5 L233.0,221.5 L234.1,220.6 L235.3,219.6 L236.4,218.7 L237.5,217.8 L238.7,216.9 L239.8,216.0 L241.0,215.1 L242.1,214.2 L243.3,213.3 L244.5,212.5 L245.6,211.7 L246.8,210.8 L248.0,210.1 L249.2,209.3 L250.5,208.5 L251.7,207.8 L253.0,207.1 L254.2,206.4 L255.5,205.7 L256.7,205.0 L258.0,204.4 L259.3,203.7 L260.6,203.1 L261.9,202.5 L263.2,201.9 L264.6,201.3 L265.9,200.8 L267.2,200.2 L268.6,199.7 L269.9,199.1 L271.3,198.6 L272.6,198.1 L274.0,197.6 L275.3,197.1 L276.7,196.6 L278.1,196.2 L279.5,195.7 L280.8,195.2 L282.2,194.8 L283.6,194.3 L285.0,193.9 L286.4,193.4 L287.8,193.0 L289.2,192.6 L290.6,192.2 L292.0,191.7 L293.4,191.3 L294.8,190.9 L296.2,190.5 L297.6,190.1 L299.0,189.6 L300.3,189.2 L301.7,188.8 L303.1,188.4 L304.5,188.0 L305.9,187.6 L307.3,187.2 L308.7,186.8 L310.1,186.4 L311.5,186.0 L312.9,185.6 L314.3,185.2 L315.7,184.8 L317.1,184.4 L318.5,184.0 L319.9,183.6 L321.3,183.3 L322.7,182.9 L324.1,182.5 L325.5,182.1 L326.9,181.7 L328.3,181.3 L329.7,181.0 L331.1,180.6 L332.5,180.2 L333.9,179.8 L335.3,179.5 L336.7,179.1 L338.1,178.7 L339.5,178.4 L340.9,178.0 L342.3,177.6 L343.7,177.3 L345.2,176.9 L346.6,176.6 L348.0,176.2 L349.4,175.8 L350.8,175.5 L352.2,175.1 L353.6,174.8 L355.0,174.4 L356.4,174.1 L357.8,173.7 L359.3,173.4 L360.7,173.1 L362.1,172.7 L363.5,172.4 L364.9,172.0 L366.3,171.7 L367.7,171.3 L369.2,171.0 L370.6,170.7 L372.0,170.3 L373.4,170.0 L374.8,169.6 L376.2,169.3 L377.6,169.0 L379.1,168.6 L380.5,168.3 L381.9,167.9 L383.3,167.6 L384.7,167.2 L386.1,166.9 L387.5,166.5 L388.9,166.2 L390.4,165.8 L391.8,165.4 L393.2,165.1 L394.6,164.7 L396.0,164.3 L397.4,163.9 L398.8,163.6 L400.2,163.2 L401.6,162.8 L403.0,162.4 L404.4,162.0 L405.8,161.6 L407.2,161.2 L408.6,160.8 L409.9,160.4 L411.3,160.0 L412.7,159.6 L414.1,159.1 L415.5,158.7 L416.9,158.3 L418.3,157.9 L419.7,157.5 L421.0,157.0 L422.4,156.6 L423.8,156.2 L425.2,155.7 L426.6,155.3 L428.0,154.9 L429.3,154.4 L430.7,154.0 L432.1,153.6 L433.5,153.1 L434.9,152.7 L436.3,152.3 L437.6,151.8 L439.0,151.4 L440.4,151.0 L441.8,150.5 L443.2,150.1 L444.6,149.7 L445.9,149.2 L447.3,148.8 L448.7,148.4 L450.1,147.9 L451.5,147.5 L452.9,147.1 L454.3,146.7 L455.7,146.2 L457.0,145.8 L458.4,145.4 L459.8,145.0 L461.2,144.6 L462.6,144.2 L464.0,143.8 L465.4,143.4 L466.8,143.0 L468.2,142.6 L469.6,142.2 L471.0,141.8 L472.4,141.4 L473.8,141.0 L475.2,140.6 L476.6,140.2 L478.0,139.8 L479.4,139.5 L480.8,139.1 L482.3,138.7 L483.7,138.3 L485.1,137.9 L486.5,137.6 L487.9,137.2 L489.3,136.8 L490.7,136.4 L492.1,136.1 L493.5,135.7 L494.9,135.3 L496.3,134.9 L497.8,134.6 L499.2,134.2 L500.6,133.8 L502.0,133.5 L503.4,133.1 L504.8,132.7 L506.2,132.4 L507.6,132.0 L509.0,131.6 L510.5,131.3 L511.9,130.9 L513.3,130.5 L514.7,130.2 L516.1,129.8 L517.5,129.4 L518.9,129.1 L520.3,128.7 L521.7,128.3 L523.1,128.0 L524.5,127.6 L526.0,127.2 L527.4,126.9 L528.8,126.5 L530.2,126.1 L531.6,125.8 L533.0,125.4 L534.4,125.0 L535.8,124.6 L537.2,124.3 L538.6,123.9 L540.0,123.5 L541.4,123.1 L542.8,122.8 L544.2,122.4 L545.6,122.0 L547.0,121.6 L548.4,121.2 L549.8,120.9 L551.1,120.5 L552.5,120.1 L553.9,119.7 L555.3,119.3 L556.7,118.9 L558.1,118.5 L559.5,118.1 L560.9,117.7 L562.3,117.4 L563.6,117.0 L565.0,116.6 L566.4,116.2 L567.8,115.8 L569.2,115.4 L570.6,115.0 L571.9,114.6 L573.3,114.2 L574.7,113.8 L576.1,113.4 L577.5,113.0 L578.9,112.7 L580.3,112.3 L581.7,111.9 L583.1,111.5 L584.4,111.1 L585.8,110.8 L587.2,110.4 L588.6,110.0 L590.0,109.6 L591.4,109.3 L592.8,108.9 L594.2,108.5 L595.6,108.2 L597.0,107.8 L598.5,107.5 L599.9,107.1 L601.3,106.8 L602.7,106.4 L604.1,106.1 L605.5,105.8 L607.0,105.5 L608.4,105.1 L609.8,104.8 L611.2,104.5 L612.7,104.2 L614.1,103.9 L615.6,103.6 L617.0,103.3 L618.4,103.0 L619.9,102.7 L621.4,102.4 L622.8,102.2 L624.3,101.9 L625.7,101.6 L627.2,101.4 L628.7,101.1 L630.2,100.9 L631.6,100.6 L633.1,100.4 L634.5,100.1 L636.0,99.8 L637.4,99.5 L638.8,99.2 L640.3,98.8 L641.7,98.5 L643.0,98.1 L644.4,97.6 L645.7,97.2 L647.0,96.7 L648.3,96.1 L649.5,95.5 L650.8,94.9 L651.9,94.2 L653.1,93.4 L654.2,92.6 L655.3,91.8 L656.3,90.9 L657.3,89.9 L658.2,88.8 L659.1,87.7 L659.9,86.5 L660.7,85.2 L661.4,83.9 L662.1,82.5 L662.7,81.1 L663.2,79.6 L663.6,78.0" stroke="#e8600f" stroke-width="4" stroke-dasharray="4 4"/>
<path d="M663.6,61.0V128" stroke="#e8600f" stroke-width="4.6" stroke-dasharray="5 3"/>
<path d="M663.6,125V200" stroke="#e8600f" stroke-width="4.4" stroke-dasharray="4 4"/>
</g>
<g clip-path="url(#c2)" fill="none" stroke-linejoin="round">
<path d="M207.5,586.3 L209.9,586.6 L212.2,587.0 L214.6,587.3 L216.9,587.6 L219.3,588.0 L221.6,588.3 L224.0,588.6 L226.4,588.9 L228.7,589.3 L231.1,589.6 L233.4,589.9 L235.8,590.2 L238.1,590.5 L240.5,590.8 L242.9,591.1 L245.2,591.4 L247.6,591.7 L249.9,592.0 L252.3,592.3 L254.7,592.6 L257.0,592.9 L259.4,593.2 L261.7,593.5 L264.1,593.7 L266.5,594.0 L268.8,594.3 L271.2,594.6 L273.6,594.8 L275.9,595.1 L278.3,595.4 L280.6,595.6 L283.0,595.9 L285.4,596.1 L287.7,596.4 L290.1,596.6 L292.5,596.9 L294.8,597.1 L297.2,597.3 L299.6,597.6 L301.9,597.8 L304.3,598.0 L306.7,598.2 L309.0,598.5 L311.4,598.7 L313.8,598.9 L316.1,599.1 L318.5,599.3 L320.9,599.5 L323.3,599.7 L325.6,599.9 L328.0,600.1 L330.4,600.3 L332.8,600.4 L335.1,600.6 L337.5,600.8 L339.9,601.0 L342.3,601.2 L344.6,601.3 L347.0,601.5 L349.4,601.7 L351.8,601.8 L354.1,602.0 L356.5,602.1 L358.9,602.3 L361.3,602.5 L363.6,602.6 L366.0,602.8 L368.4,602.9 L370.8,603.1 L373.2,603.2 L375.5,603.4 L377.9,603.5 L380.3,603.7 L382.7,603.8 L385.0,604.0 L387.4,604.1 L389.8,604.3 L392.2,604.4 L394.6,604.6 L396.9,604.8 L399.3,604.9 L401.7,605.1 L404.1,605.2 L406.4,605.4 L408.8,605.5 L411.2,605.7 L413.6,605.9 L415.9,606.0 L418.3,606.2 L420.7,606.4 L423.1,606.6 L425.4,606.7 L427.8,606.9 L430.2,607.1 L432.5,607.3 L434.9,607.5 L437.3,607.6 L439.6,607.8 L442.0,608.0 L444.4,608.2 L446.7,608.4 L449.1,608.7 L451.5,608.9 L453.8,609.1 L456.2,609.3 L458.6,609.5 L460.9,609.8 L463.3,610.0 L465.6,610.3 L468.0,610.5 L470.4,610.7 L472.7,611.0 L475.1,611.3 L477.4,611.5 L479.8,611.8 L482.1,612.1 L484.5,612.4 L486.8,612.7 L489.2,613.0 L491.6,613.3 L493.9,613.6 L496.3,613.9 L498.6,614.2 L500.9,614.5 L503.3,614.9 L505.6,615.2 L508.0,615.6 L510.3,615.9 L512.7,616.3 L515.0,616.7 L517.4,617.0 L519.7,617.4 L522.1,617.8 L524.4,618.2 L526.8,618.6 L529.1,619.0 L531.4,619.5 L533.8,619.9 L536.1,620.3 L538.5,620.8 L540.8,621.2 L543.1,621.7 L545.5,622.2 L547.8,622.7 L550.2,623.1 L552.5,623.6 L554.8,624.2 L557.2,624.7 L559.5,625.2 L561.9,625.7 L564.2,626.3 L566.5,626.8 L568.9,627.4 L571.2,628.0 L573.5,628.6 L575.8,629.3 L578.1,629.9 L580.4,630.6 L582.7,631.3 L584.9,632.1 L587.2,632.8 L589.4,633.6 L591.7,634.4 L593.9,635.3 L596.1,636.2 L598.2,637.1 L600.4,638.1 L602.5,639.1 L604.6,640.2 L606.7,641.3 L608.8,642.4 L610.9,643.6 L612.9,644.8 L614.9,646.0 L616.9,647.2 L618.9,648.5 L620.9,649.8 L622.9,651.2 L624.8,652.6 L626.7,653.9 L628.7,655.4 L630.6,656.8 L632.5,658.3 L634.4,659.7 L636.2,661.2 L638.1,662.7 L640.0,664.3 L641.8,665.8 L643.7,667.4 L645.5,668.9 L647.4,670.4 L649.3,671.8 L651.2,673.1 L653.2,674.3 L655.3,675.4 L657.4,676.3 L659.6,677.0 L661.9,677.5 L664.3,677.8 L664.3,682.0 L661.9,681.8 L659.6,681.4 L657.3,680.7 L655.2,679.9 L653.1,678.9 L651.1,677.8 L649.1,676.5 L647.2,675.1 L645.3,673.7 L643.4,672.2 L641.5,670.7 L639.7,669.1 L637.8,667.6 L636.0,666.0 L634.1,664.5 L632.3,663.0 L630.4,661.5 L628.6,660.0 L626.7,658.6 L624.8,657.1 L622.8,655.7 L620.9,654.4 L618.9,653.0 L616.9,651.8 L614.9,650.5 L612.9,649.3 L610.8,648.2 L608.7,647.0 L606.6,646.0 L604.5,644.9 L602.4,643.9 L600.2,642.9 L598.0,642.0 L595.8,641.1 L593.6,640.3 L591.4,639.5 L589.2,638.7 L586.9,637.9 L584.6,637.2 L582.4,636.5 L580.1,635.8 L577.8,635.1 L575.5,634.5 L573.2,633.9 L570.9,633.3 L568.6,632.7 L566.3,632.2 L563.9,631.6 L561.6,631.1 L559.3,630.5 L556.9,630.0 L554.6,629.5 L552.3,629.0 L550.0,628.5 L547.6,628.0 L545.3,627.5 L543.0,627.1 L540.6,626.6 L538.3,626.1 L535.9,625.7 L533.6,625.2 L531.3,624.8 L528.9,624.4 L526.6,623.9 L524.3,623.5 L521.9,623.1 L519.6,622.7 L517.2,622.3 L514.9,621.9 L512.6,621.5 L510.2,621.1 L507.9,620.8 L505.5,620.4 L503.2,620.0 L500.8,619.7 L498.5,619.3 L496.1,619.0 L493.8,618.7 L491.4,618.3 L489.1,618.0 L486.7,617.7 L484.4,617.4 L482.0,617.1 L479.7,616.8 L477.3,616.5 L475.0,616.2 L472.6,615.9 L470.3,615.7 L467.9,615.4 L465.6,615.1 L463.2,614.9 L460.8,614.6 L458.5,614.4 L456.1,614.2 L453.8,613.9 L451.4,613.7 L449.0,613.5 L446.7,613.3 L444.3,613.1 L441.9,612.9 L439.6,612.7 L437.2,612.5 L434.8,612.3 L432.5,612.1 L430.1,611.9 L427.7,611.8 L425.4,611.6 L423.0,611.4 L420.6,611.3 L418.2,611.1 L415.9,611.0 L413.5,610.8 L411.1,610.7 L408.8,610.5 L406.4,610.4 L404.0,610.2 L401.6,610.1 L399.3,609.9 L396.9,609.8 L394.5,609.7 L392.1,609.5 L389.8,609.4 L387.4,609.3 L385.0,609.2 L382.6,609.0 L380.3,608.9 L377.9,608.8 L375.5,608.7 L373.1,608.5 L370.7,608.4 L368.4,608.3 L366.0,608.2 L363.6,608.1 L361.2,607.9 L358.9,607.8 L356.5,607.7 L354.1,607.6 L351.7,607.4 L349.4,607.3 L347.0,607.2 L344.6,607.1 L342.2,606.9 L339.9,606.8 L337.5,606.7 L335.1,606.5 L332.7,606.4 L330.4,606.2 L328.0,606.1 L325.6,605.9 L323.2,605.8 L320.9,605.6 L318.5,605.5 L316.1,605.3 L313.7,605.2 L311.4,605.0 L309.0,604.8 L306.6,604.7 L304.3,604.5 L301.9,604.3 L299.5,604.1 L297.2,603.9 L294.8,603.7 L292.4,603.5 L290.0,603.3 L287.7,603.1 L285.3,602.9 L282.9,602.7 L280.6,602.5 L278.2,602.3 L275.9,602.0 L273.5,601.8 L271.1,601.6 L268.8,601.3 L266.4,601.1 L264.0,600.9 L261.7,600.6 L259.3,600.3 L257.0,600.1 L254.6,599.8 L252.2,599.5 L249.9,599.3 L247.5,599.0 L245.2,598.7 L242.8,598.4 L240.4,598.1 L238.1,597.8 L235.7,597.5 L233.4,597.2 L231.0,596.9 L228.7,596.6 L226.3,596.2 L224.0,595.9 L221.6,595.6 L219.3,595.2 L216.9,594.9 L214.6,594.5 L212.2,594.1 L209.8,593.8 L207.5,593.4Z" fill="#454545"/>
<path d="M187.7,546.3 L190.1,546.7 L192.5,547.0 L194.9,547.4 L197.3,547.7 L199.8,548.1 L202.2,548.4 L204.6,548.8 L207.0,549.1 L209.4,549.4 L211.8,549.8 L214.2,550.1 L216.7,550.5 L219.1,550.8 L221.5,551.1 L223.9,551.4 L226.3,551.8 L228.7,552.1 L231.1,552.4 L233.6,552.7 L236.0,553.1 L238.4,553.4 L240.8,553.7 L243.2,554.0 L245.6,554.3 L248.1,554.6 L250.5,554.9 L252.9,555.2 L255.3,555.5 L257.7,555.8 L260.1,556.1 L262.6,556.4 L265.0,556.7 L267.4,557.0 L269.8,557.3 L272.2,557.6 L274.7,557.8 L277.1,558.1 L279.5,558.4 L281.9,558.7 L284.3,558.9 L286.8,559.2 L289.2,559.5 L291.6,559.7 L294.0,560.0 L296.5,560.3 L298.9,560.5 L301.3,560.8 L303.7,561.0 L306.2,561.3 L308.6,561.5 L311.0,561.8 L313.4,562.0 L315.8,562.3 L318.3,562.5 L320.7,562.8 L323.1,563.0 L325.6,563.2 L328.0,563.5 L330.4,563.7 L332.8,563.9 L335.3,564.1 L337.7,564.4 L340.1,564.6 L342.5,564.8 L345.0,565.0 L347.4,565.2 L349.8,565.5 L352.3,565.7 L354.7,565.9 L357.1,566.1 L359.5,566.3 L362.0,566.5 L364.4,566.8 L366.8,567.0 L369.3,567.2 L371.7,567.4 L374.1,567.6 L376.6,567.8 L379.0,568.0 L381.4,568.3 L383.8,568.5 L386.3,568.7 L388.7,568.9 L391.1,569.1 L393.6,569.3 L396.0,569.6 L398.4,569.8 L400.8,570.0 L403.3,570.2 L405.7,570.5 L408.1,570.7 L410.5,570.9 L413.0,571.2 L415.4,571.4 L417.8,571.6 L420.2,571.9 L422.7,572.1 L425.1,572.4 L427.5,572.6 L429.9,572.9 L432.4,573.1 L434.8,573.4 L437.2,573.6 L439.6,573.9 L442.1,574.2 L444.5,574.4 L446.9,574.7 L449.3,575.0 L451.7,575.3 L454.2,575.6 L456.6,575.9 L459.0,576.2 L461.4,576.5 L463.8,576.8 L466.2,577.1 L468.7,577.4 L471.1,577.7 L473.5,578.0 L475.9,578.4 L478.3,578.7 L480.7,579.0 L483.1,579.4 L485.5,579.7 L488.0,580.1 L490.4,580.5 L492.8,580.8 L495.2,581.2 L497.6,581.6 L500.0,582.0 L502.4,582.4 L504.8,582.8 L507.2,583.2 L509.6,583.6 L512.0,584.0 L514.4,584.4 L516.8,584.9 L519.2,585.3 L521.6,585.8 L524.0,586.2 L526.4,586.7 L528.8,587.2 L531.2,587.6 L533.6,588.1 L535.9,588.6 L538.3,589.1 L540.7,589.6 L543.1,590.1 L545.5,590.7 L547.9,591.2 L550.2,591.7 L552.6,592.3 L555.0,592.8 L557.4,593.4 L559.7,594.0 L562.1,594.5 L564.5,595.1 L566.8,595.7 L569.2,596.3 L571.5,596.9 L573.9,597.5 L576.3,598.2 L578.6,598.8 L581.0,599.4 L583.3,600.1 L585.7,600.7 L588.0,601.4 L590.3,602.1 L592.7,602.8 L595.0,603.5 L597.3,604.2 L599.7,604.9 L602.0,605.6 L604.3,606.3 L606.7,607.0 L609.0,607.8 L611.3,608.5 L613.6,609.3 L615.9,610.1 L618.2,610.9 L620.5,611.6 L622.8,612.4 L625.1,613.2 L627.4,614.1 L629.7,614.9 L632.0,615.7 L634.3,616.5 L636.6,617.3 L638.9,618.1 L641.2,618.9 L643.5,619.7 L645.8,620.5 L648.1,621.3 L650.4,622.1 L652.7,622.9 L655.0,623.7 L657.3,624.4 L659.6,625.2 L662.0,625.9 L664.3,626.6 L664.3,630.6 L662.0,630.0 L659.6,629.3 L657.3,628.6 L655.0,627.9 L652.6,627.2 L650.3,626.5 L648.0,625.8 L645.7,625.0 L643.4,624.3 L641.1,623.5 L638.8,622.7 L636.5,622.0 L634.2,621.2 L631.9,620.4 L629.6,619.7 L627.3,618.9 L625.0,618.1 L622.7,617.3 L620.4,616.6 L618.1,615.8 L615.7,615.1 L613.4,614.3 L611.1,613.6 L608.8,612.9 L606.5,612.2 L604.1,611.5 L601.8,610.8 L599.5,610.1 L597.2,609.4 L594.8,608.7 L592.5,608.1 L590.1,607.4 L587.8,606.8 L585.4,606.1 L583.1,605.5 L580.7,604.9 L578.4,604.2 L576.0,603.6 L573.7,603.0 L571.3,602.4 L569.0,601.9 L566.6,601.3 L564.2,600.7 L561.9,600.2 L559.5,599.6 L557.1,599.1 L554.7,598.5 L552.4,598.0 L550.0,597.5 L547.6,597.0 L545.2,596.5 L542.9,596.0 L540.5,595.5 L538.1,595.0 L535.7,594.5 L533.3,594.1 L530.9,593.6 L528.5,593.2 L526.1,592.7 L523.7,592.3 L521.3,591.9 L518.9,591.5 L516.5,591.1 L514.1,590.7 L511.7,590.3 L509.3,589.9 L506.9,589.5 L504.5,589.1 L502.1,588.8 L499.7,588.4 L497.3,588.1 L494.9,587.8 L492.5,587.4 L490.1,587.1 L487.6,586.8 L485.2,586.5 L482.8,586.2 L480.4,585.9 L478.0,585.6 L475.6,585.3 L473.1,585.0 L470.7,584.8 L468.3,584.5 L465.9,584.3 L463.5,584.0 L461.1,583.8 L458.6,583.5 L456.2,583.3 L453.8,583.1 L451.4,582.8 L448.9,582.6 L446.5,582.4 L444.1,582.2 L441.7,582.0 L439.2,581.8 L436.8,581.6 L434.4,581.4 L432.0,581.2 L429.5,581.0 L427.1,580.8 L424.7,580.6 L422.3,580.4 L419.8,580.2 L417.4,580.0 L415.0,579.8 L412.6,579.6 L410.1,579.4 L407.7,579.3 L405.3,579.1 L402.9,578.9 L400.4,578.7 L398.0,578.5 L395.6,578.3 L393.2,578.1 L390.7,577.9 L388.3,577.7 L385.9,577.5 L383.5,577.3 L381.1,577.1 L378.6,576.9 L376.2,576.6 L373.8,576.4 L371.4,576.2 L368.9,575.9 L366.5,575.7 L364.1,575.5 L361.7,575.2 L359.3,575.0 L356.8,574.7 L354.4,574.4 L352.0,574.2 L349.6,573.9 L347.2,573.6 L344.8,573.3 L342.4,573.0 L339.9,572.7 L337.5,572.4 L335.1,572.1 L332.7,571.8 L330.3,571.5 L327.9,571.3 L325.5,571.0 L323.0,570.7 L320.6,570.4 L318.2,570.1 L315.8,569.8 L313.4,569.5 L311.0,569.2 L308.5,569.0 L306.1,568.7 L303.7,568.4 L301.3,568.2 L298.9,567.9 L296.5,567.7 L294.0,567.4 L291.6,567.2 L289.2,566.9 L286.8,566.7 L284.4,566.4 L281.9,566.2 L279.5,565.9 L277.1,565.7 L274.7,565.5 L272.2,565.2 L269.8,565.0 L267.4,564.8 L265.0,564.6 L262.6,564.3 L260.1,564.1 L257.7,563.9 L255.3,563.7 L252.9,563.5 L250.4,563.3 L248.0,563.1 L245.6,562.9 L243.2,562.7 L240.7,562.4 L238.3,562.2 L235.9,562.0 L233.5,561.8 L231.1,561.5 L228.6,561.3 L226.2,561.1 L223.8,560.8 L221.4,560.6 L219.0,560.3 L216.5,560.0 L214.1,559.7 L211.7,559.4 L209.3,559.1 L206.9,558.8 L204.5,558.4 L202.1,558.0 L199.7,557.7 L197.3,557.3 L194.9,556.9 L192.5,556.4 L190.1,556.0 L187.7,555.5Z" fill="#6d6d6d"/>
<path d="M173.3,506.8 L175.8,507.2 L178.2,507.6 L180.7,508.1 L183.1,508.5 L185.6,508.9 L188.0,509.3 L190.5,509.7 L192.9,510.1 L195.4,510.5 L197.8,510.8 L200.3,511.2 L202.8,511.6 L205.2,512.0 L207.7,512.3 L210.1,512.7 L212.6,513.0 L215.0,513.4 L217.5,513.7 L220.0,514.1 L222.4,514.4 L224.9,514.8 L227.4,515.1 L229.8,515.4 L232.3,515.7 L234.7,516.1 L237.2,516.4 L239.7,516.7 L242.1,517.0 L244.6,517.3 L247.1,517.6 L249.5,517.9 L252.0,518.2 L254.5,518.5 L256.9,518.8 L259.4,519.1 L261.9,519.3 L264.3,519.6 L266.8,519.9 L269.3,520.2 L271.8,520.5 L274.2,520.7 L276.7,521.0 L279.2,521.3 L281.6,521.5 L284.1,521.8 L286.6,522.0 L289.1,522.3 L291.5,522.5 L294.0,522.8 L296.5,523.0 L298.9,523.3 L301.4,523.5 L303.9,523.8 L306.4,524.0 L308.8,524.2 L311.3,524.5 L313.8,524.7 L316.3,524.9 L318.7,525.2 L321.2,525.4 L323.7,525.6 L326.2,525.8 L328.6,526.1 L331.1,526.3 L333.6,526.5 L336.1,526.7 L338.5,527.0 L341.0,527.2 L343.5,527.4 L346.0,527.6 L348.5,527.8 L350.9,528.0 L353.4,528.2 L355.9,528.5 L358.4,528.7 L360.8,528.9 L363.3,529.1 L365.8,529.3 L368.3,529.5 L370.7,529.7 L373.2,529.9 L375.7,530.1 L378.2,530.4 L380.7,530.6 L383.1,530.8 L385.6,531.0 L388.1,531.2 L390.6,531.4 L393.0,531.6 L395.5,531.8 L398.0,532.0 L400.5,532.2 L403.0,532.5 L405.4,532.7 L407.9,532.9 L410.4,533.1 L412.9,533.3 L415.3,533.5 L417.8,533.7 L420.3,534.0 L422.8,534.2 L425.2,534.4 L427.7,534.6 L430.2,534.8 L432.7,535.1 L435.2,535.3 L437.6,535.5 L440.1,535.7 L442.6,536.0 L445.1,536.2 L447.5,536.4 L450.0,536.6 L452.5,536.9 L455.0,537.1 L457.4,537.3 L459.9,537.6 L462.4,537.8 L464.9,538.1 L467.3,538.3 L469.8,538.6 L472.3,538.8 L474.7,539.1 L477.2,539.3 L479.7,539.6 L482.2,539.8 L484.6,540.1 L487.1,540.3 L489.6,540.6 L492.0,540.9 L494.5,541.1 L497.0,541.4 L499.5,541.7 L501.9,541.9 L504.4,542.2 L506.9,542.5 L509.3,542.8 L511.8,543.1 L514.3,543.3 L516.7,543.6 L519.2,543.9 L521.7,544.2 L524.1,544.5 L526.6,544.8 L529.1,545.1 L531.5,545.4 L534.0,545.7 L536.5,546.0 L538.9,546.3 L541.4,546.6 L543.9,546.9 L546.3,547.2 L548.8,547.5 L551.3,547.9 L553.7,548.2 L556.2,548.5 L558.7,548.8 L561.1,549.2 L563.6,549.5 L566.1,549.8 L568.5,550.2 L571.0,550.5 L573.4,550.8 L575.9,551.2 L578.4,551.5 L580.8,551.9 L583.3,552.2 L585.7,552.6 L588.2,552.9 L590.7,553.3 L593.1,553.6 L595.6,554.0 L598.0,554.4 L600.5,554.7 L603.0,555.1 L605.4,555.5 L607.9,555.9 L610.3,556.2 L612.8,556.6 L615.2,557.0 L617.7,557.4 L620.2,557.8 L622.6,558.2 L625.1,558.6 L627.5,559.0 L630.0,559.4 L632.4,559.8 L634.9,560.2 L637.3,560.6 L639.8,561.0 L642.2,561.4 L644.7,561.8 L647.1,562.3 L649.6,562.7 L652.1,563.1 L654.5,563.5 L657.0,564.0 L659.4,564.4 L661.9,564.9 L664.3,565.3 L664.3,569.3 L661.9,568.9 L659.4,568.4 L657.0,568.0 L654.5,567.6 L652.1,567.2 L649.6,566.8 L647.2,566.3 L644.7,565.9 L642.3,565.5 L639.8,565.1 L637.4,564.7 L634.9,564.3 L632.4,563.9 L630.0,563.5 L627.5,563.1 L625.1,562.7 L622.6,562.3 L620.2,562.0 L617.7,561.6 L615.3,561.2 L612.8,560.8 L610.4,560.4 L607.9,560.1 L605.5,559.7 L603.0,559.3 L600.5,559.0 L598.1,558.6 L595.6,558.3 L593.2,557.9 L590.7,557.5 L588.3,557.2 L585.8,556.8 L583.3,556.5 L580.9,556.2 L578.4,555.8 L576.0,555.5 L573.5,555.1 L571.0,554.8 L568.6,554.5 L566.1,554.1 L563.7,553.8 L561.2,553.5 L558.7,553.2 L556.3,552.9 L553.8,552.5 L551.3,552.2 L548.9,551.9 L546.4,551.6 L544.0,551.3 L541.5,551.0 L539.0,550.7 L536.6,550.4 L534.1,550.1 L531.6,549.8 L529.2,549.5 L526.7,549.2 L524.2,548.9 L521.8,548.6 L519.3,548.4 L516.8,548.1 L514.4,547.8 L511.9,547.5 L509.4,547.2 L507.0,547.0 L504.5,546.7 L502.0,546.4 L499.6,546.2 L497.1,545.9 L494.6,545.6 L492.2,545.4 L489.7,545.1 L487.2,544.9 L484.8,544.6 L482.3,544.3 L479.8,544.1 L477.4,543.9 L474.9,543.6 L472.4,543.4 L469.9,543.1 L467.5,542.9 L465.0,542.6 L462.5,542.4 L460.1,542.2 L457.6,541.9 L455.1,541.7 L452.6,541.5 L450.2,541.3 L447.7,541.0 L445.2,540.8 L442.7,540.6 L440.3,540.4 L437.8,540.2 L435.3,539.9 L432.9,539.7 L430.4,539.5 L427.9,539.3 L425.4,539.1 L423.0,538.9 L420.5,538.7 L418.0,538.5 L415.5,538.3 L413.1,538.1 L410.6,537.9 L408.1,537.7 L405.6,537.4 L403.2,537.2 L400.7,537.0 L398.2,536.9 L395.7,536.7 L393.3,536.5 L390.8,536.3 L388.3,536.1 L385.8,535.9 L383.4,535.7 L380.9,535.5 L378.4,535.3 L375.9,535.1 L373.5,534.9 L371.0,534.7 L368.5,534.5 L366.0,534.3 L363.5,534.1 L361.1,533.9 L358.6,533.7 L356.1,533.6 L353.6,533.4 L351.2,533.2 L348.7,533.0 L346.2,532.8 L343.7,532.6 L341.3,532.4 L338.8,532.2 L336.3,532.0 L333.8,531.8 L331.4,531.6 L328.9,531.4 L326.4,531.2 L323.9,531.0 L321.5,530.8 L319.0,530.6 L316.5,530.4 L314.0,530.2 L311.6,530.0 L309.1,529.8 L306.6,529.6 L304.1,529.4 L301.7,529.2 L299.2,529.0 L296.7,528.8 L294.2,528.6 L291.8,528.4 L289.3,528.2 L286.8,527.9 L284.3,527.7 L281.9,527.5 L279.4,527.3 L276.9,527.1 L274.5,526.8 L272.0,526.6 L269.5,526.4 L267.0,526.2 L264.6,525.9 L262.1,525.7 L259.6,525.5 L257.1,525.2 L254.7,525.0 L252.2,524.8 L249.7,524.5 L247.3,524.3 L244.8,524.0 L242.3,523.8 L239.9,523.5 L237.4,523.3 L234.9,523.0 L232.4,522.7 L230.0,522.5 L227.5,522.2 L225.0,522.0 L222.6,521.7 L220.1,521.4 L217.6,521.1 L215.2,520.9 L212.7,520.6 L210.2,520.3 L207.8,520.0 L205.3,519.7 L202.8,519.4 L200.4,519.1 L197.9,518.8 L195.5,518.5 L193.0,518.2 L190.5,517.9 L188.1,517.6 L185.6,517.3 L183.1,516.9 L180.7,516.6 L178.2,516.3 L175.8,515.9 L173.3,515.6Z" fill="#959595"/>
<path d="M169.8,480.3 L172.3,480.7 L174.7,481.1 L177.2,481.6 L179.7,482.0 L182.1,482.4 L184.6,482.7 L187.1,483.1 L189.5,483.5 L192.0,483.9 L194.5,484.2 L197.0,484.6 L199.4,484.9 L201.9,485.3 L204.4,485.6 L206.8,485.9 L209.3,486.3 L211.8,486.6 L214.3,486.9 L216.8,487.2 L219.2,487.5 L221.7,487.8 L224.2,488.1 L226.7,488.4 L229.1,488.7 L231.6,488.9 L234.1,489.2 L236.6,489.5 L239.1,489.7 L241.6,490.0 L244.0,490.3 L246.5,490.5 L249.0,490.7 L251.5,491.0 L254.0,491.2 L256.5,491.5 L259.0,491.7 L261.4,491.9 L263.9,492.1 L266.4,492.3 L268.9,492.6 L271.4,492.8 L273.9,493.0 L276.4,493.2 L278.9,493.4 L281.3,493.6 L283.8,493.8 L286.3,494.0 L288.8,494.2 L291.3,494.4 L293.8,494.5 L296.3,494.7 L298.8,494.9 L301.3,495.1 L303.8,495.3 L306.2,495.5 L308.7,495.6 L311.2,495.8 L313.7,496.0 L316.2,496.1 L318.7,496.3 L321.2,496.5 L323.7,496.7 L326.2,496.8 L328.7,497.0 L331.2,497.2 L333.7,497.3 L336.2,497.5 L338.7,497.7 L341.1,497.8 L343.6,498.0 L346.1,498.2 L348.6,498.3 L351.1,498.5 L353.6,498.7 L356.1,498.8 L358.6,499.0 L361.1,499.2 L363.6,499.3 L366.1,499.5 L368.6,499.7 L371.1,499.8 L373.5,500.0 L376.0,500.2 L378.5,500.4 L381.0,500.5 L383.5,500.7 L386.0,500.9 L388.5,501.1 L391.0,501.2 L393.5,501.4 L396.0,501.6 L398.5,501.8 L401.0,501.9 L403.4,502.1 L405.9,502.3 L408.4,502.5 L410.9,502.7 L413.4,502.9 L415.9,503.0 L418.4,503.2 L420.9,503.4 L423.4,503.6 L425.9,503.8 L428.3,504.0 L430.8,504.2 L433.3,504.4 L435.8,504.6 L438.3,504.8 L440.8,505.0 L443.3,505.2 L445.8,505.4 L448.3,505.6 L450.8,505.8 L453.2,506.0 L455.7,506.2 L458.2,506.4 L460.7,506.6 L463.2,506.8 L465.7,507.0 L468.2,507.2 L470.7,507.4 L473.1,507.6 L475.6,507.8 L478.1,508.0 L480.6,508.2 L483.1,508.5 L485.6,508.7 L488.1,508.9 L490.6,509.1 L493.0,509.3 L495.5,509.6 L498.0,509.8 L500.5,510.0 L503.0,510.2 L505.5,510.5 L508.0,510.7 L510.5,510.9 L512.9,511.1 L515.4,511.4 L517.9,511.6 L520.4,511.8 L522.9,512.1 L525.4,512.3 L527.9,512.6 L530.3,512.8 L532.8,513.0 L535.3,513.3 L537.8,513.5 L540.3,513.8 L542.8,514.0 L545.2,514.3 L547.7,514.5 L550.2,514.8 L552.7,515.0 L555.2,515.3 L557.7,515.6 L560.1,515.8 L562.6,516.1 L565.1,516.3 L567.6,516.6 L570.1,516.9 L572.6,517.1 L575.0,517.4 L577.5,517.7 L580.0,518.0 L582.5,518.2 L585.0,518.5 L587.5,518.8 L589.9,519.1 L592.4,519.4 L594.9,519.6 L597.4,519.9 L599.9,520.2 L602.3,520.5 L604.8,520.8 L607.3,521.1 L609.8,521.4 L612.3,521.7 L614.7,522.0 L617.2,522.3 L619.7,522.6 L622.2,522.9 L624.7,523.2 L627.1,523.5 L629.6,523.8 L632.1,524.1 L634.6,524.5 L637.0,524.8 L639.5,525.1 L642.0,525.4 L644.5,525.7 L647.0,526.1 L649.4,526.4 L651.9,526.7 L654.4,527.1 L656.9,527.4 L659.3,527.7 L661.8,528.1 L664.3,528.4" stroke="#bcbcbc" stroke-width="4.8"/>
<path d="M198.9,579.5 L201.3,580.1 L203.6,580.7 L206.0,581.2 L208.3,581.8 L210.7,582.4 L213.1,582.9 L215.4,583.5 L217.8,584.0 L220.2,584.5 L222.5,585.0 L224.9,585.5 L227.3,586.0 L229.7,586.5 L232.0,587.0 L234.4,587.5 L236.8,588.0 L239.2,588.4 L241.6,588.9 L244.0,589.3 L246.3,589.8 L248.7,590.2 L251.1,590.7 L253.5,591.1 L255.9,591.5 L258.3,591.9 L260.7,592.3 L263.1,592.7 L265.5,593.1 L267.9,593.5 L270.3,593.9 L272.7,594.2 L275.1,594.6 L277.5,595.0 L279.9,595.3 L282.3,595.7 L284.7,596.0 L287.1,596.3 L289.5,596.7 L291.9,597.0 L294.3,597.3 L296.7,597.6 L299.1,597.9 L301.5,598.2 L304.0,598.5 L306.4,598.8 L308.8,599.1 L311.2,599.4 L313.6,599.6 L316.0,599.9 L318.4,600.2 L320.9,600.4 L323.3,600.7 L325.7,600.9 L328.1,601.2 L330.5,601.4 L332.9,601.6 L335.4,601.9 L337.8,602.1 L340.2,602.3 L342.6,602.5 L345.0,602.8 L347.5,603.0 L349.9,603.2 L352.3,603.4 L354.7,603.6 L357.1,603.8 L359.6,604.0 L362.0,604.2 L364.4,604.4 L366.8,604.5 L369.3,604.7 L371.7,604.9 L374.1,605.1 L376.5,605.3 L378.9,605.5 L381.4,605.6 L383.8,605.8 L386.2,606.0 L388.6,606.2 L391.1,606.3 L393.5,606.5 L395.9,606.7 L398.3,606.9 L400.8,607.0 L403.2,607.2 L405.6,607.4 L408.0,607.6 L410.5,607.7 L412.9,607.9 L415.3,608.1 L417.7,608.2 L420.1,608.4 L422.6,608.6 L425.0,608.8 L427.4,609.0 L429.8,609.1 L432.3,609.3 L434.7,609.5 L437.1,609.7 L439.5,609.9 L441.9,610.1 L444.4,610.3 L446.8,610.5 L449.2,610.6 L451.6,610.8 L454.0,611.1 L456.4,611.3 L458.9,611.5 L461.3,611.7 L463.7,611.9 L466.1,612.1 L468.5,612.3 L470.9,612.6 L473.4,612.8 L475.8,613.0 L478.2,613.3 L480.6,613.5 L483.0,613.8 L485.4,614.1 L487.8,614.3 L490.2,614.6 L492.6,614.9 L495.0,615.2 L497.5,615.5 L499.9,615.8 L502.3,616.1 L504.7,616.4 L507.1,616.8 L509.5,617.1 L511.9,617.5 L514.3,617.8 L516.7,618.2 L519.1,618.6 L521.4,619.0 L523.8,619.4 L526.2,619.8 L528.6,620.2 L531.0,620.6 L533.4,621.1 L535.8,621.5 L538.2,622.0 L540.5,622.5 L542.9,623.0 L545.3,623.5 L547.7,624.0 L550.1,624.6 L552.4,625.1 L554.8,625.7 L557.2,626.3 L559.5,626.9 L561.9,627.5 L564.3,628.1 L566.6,628.8 L569.0,629.4 L571.3,630.1 L573.7,630.8 L576.0,631.5 L578.3,632.3 L580.6,633.1 L582.9,633.9 L585.2,634.7 L587.5,635.5 L589.8,636.4 L592.0,637.3 L594.3,638.3 L596.5,639.2 L598.7,640.2 L600.9,641.3 L603.1,642.3 L605.2,643.4 L607.4,644.5 L609.5,645.7 L611.6,646.9 L613.6,648.2 L615.7,649.4 L617.7,650.7 L619.7,652.1 L621.7,653.5 L623.7,654.9 L625.7,656.3 L627.6,657.8 L629.5,659.3 L631.4,660.9 L633.3,662.4 L635.2,664.0 L637.1,665.6 L639.0,667.2 L640.9,668.7 L642.8,670.2 L644.8,671.7 L646.7,673.0 L648.8,674.3 L650.8,675.5 L652.9,676.6 L655.1,677.6 L657.3,678.4 L659.5,679.1 L661.9,679.6 L664.3,680.0" stroke="#e8600f" stroke-width="3.5" stroke-dasharray="4 4"/>
<path d="M188.7,549.0 L191.1,549.6 L193.4,550.2 L195.8,550.8 L198.1,551.4 L200.5,552.0 L202.9,552.6 L205.2,553.1 L207.6,553.7 L210.0,554.2 L212.3,554.8 L214.7,555.3 L217.1,555.8 L219.4,556.4 L221.8,556.9 L224.2,557.4 L226.6,557.9 L229.0,558.4 L231.3,558.9 L233.7,559.3 L236.1,559.8 L238.5,560.3 L240.9,560.7 L243.3,561.2 L245.6,561.6 L248.0,562.1 L250.4,562.5 L252.8,562.9 L255.2,563.3 L257.6,563.7 L260.0,564.1 L262.4,564.5 L264.8,564.9 L267.2,565.3 L269.6,565.7 L272.0,566.1 L274.4,566.5 L276.8,566.8 L279.2,567.2 L281.6,567.5 L284.0,567.9 L286.4,568.2 L288.8,568.6 L291.2,568.9 L293.6,569.2 L296.0,569.6 L298.5,569.9 L300.9,570.2 L303.3,570.5 L305.7,570.8 L308.1,571.1 L310.5,571.4 L312.9,571.7 L315.3,572.0 L317.8,572.2 L320.2,572.5 L322.6,572.8 L325.0,573.1 L327.4,573.3 L329.8,573.6 L332.3,573.8 L334.7,574.1 L337.1,574.3 L339.5,574.6 L341.9,574.8 L344.4,575.1 L346.8,575.3 L349.2,575.5 L351.6,575.8 L354.1,576.0 L356.5,576.2 L358.9,576.4 L361.3,576.7 L363.7,576.9 L366.2,577.1 L368.6,577.3 L371.0,577.5 L373.4,577.7 L375.9,577.9 L378.3,578.1 L380.7,578.3 L383.1,578.5 L385.6,578.7 L388.0,578.9 L390.4,579.0 L392.8,579.2 L395.3,579.4 L397.7,579.6 L400.1,579.8 L402.5,579.9 L405.0,580.1 L407.4,580.3 L409.8,580.5 L412.2,580.6 L414.7,580.8 L417.1,581.0 L419.5,581.2 L421.9,581.3 L424.4,581.5 L426.8,581.7 L429.2,581.9 L431.6,582.0 L434.0,582.2 L436.5,582.4 L438.9,582.6 L441.3,582.7 L443.7,582.9 L446.2,583.1 L448.6,583.3 L451.0,583.5 L453.4,583.7 L455.8,583.9 L458.3,584.1 L460.7,584.3 L463.1,584.5 L465.5,584.8 L467.9,585.0 L470.3,585.2 L472.8,585.4 L475.2,585.7 L477.6,585.9 L480.0,586.2 L482.4,586.4 L484.8,586.7 L487.3,587.0 L489.7,587.2 L492.1,587.5 L494.5,587.8 L496.9,588.1 L499.3,588.4 L501.7,588.7 L504.1,589.1 L506.5,589.4 L509.0,589.7 L511.4,590.1 L513.8,590.4 L516.2,590.8 L518.6,591.2 L521.0,591.6 L523.4,592.0 L525.8,592.4 L528.2,592.8 L530.6,593.2 L533.0,593.6 L535.4,594.0 L537.8,594.5 L540.2,594.9 L542.6,595.4 L545.0,595.9 L547.3,596.3 L549.7,596.8 L552.1,597.3 L554.5,597.8 L556.9,598.3 L559.3,598.9 L561.6,599.4 L564.0,599.9 L566.4,600.5 L568.7,601.0 L571.1,601.6 L573.5,602.2 L575.8,602.7 L578.2,603.3 L580.6,603.9 L582.9,604.5 L585.3,605.2 L587.6,605.8 L590.0,606.4 L592.3,607.1 L594.6,607.7 L597.0,608.4 L599.3,609.0 L601.6,609.7 L604.0,610.4 L606.3,611.1 L608.6,611.8 L610.9,612.5 L613.3,613.2 L615.6,613.9 L617.9,614.6 L620.2,615.4 L622.5,616.1 L624.8,616.8 L627.1,617.6 L629.4,618.3 L631.7,619.1 L634.0,619.9 L636.3,620.7 L638.6,621.4 L640.9,622.2 L643.2,623.0 L645.5,623.8 L647.8,624.6 L650.1,625.4 L652.4,626.1 L654.7,626.8 L657.1,627.4 L659.4,627.9 L661.9,628.3 L664.3,628.6" stroke="#e8600f" stroke-width="4" stroke-dasharray="4 4"/>
<path d="M176.4,503.7 L178.8,504.4 L181.2,505.0 L183.6,505.7 L186.0,506.3 L188.4,506.9 L190.8,507.5 L193.2,508.1 L195.6,508.7 L198.0,509.3 L200.4,509.8 L202.9,510.4 L205.3,510.9 L207.7,511.5 L210.1,512.0 L212.5,512.5 L215.0,513.0 L217.4,513.5 L219.8,514.0 L222.2,514.5 L224.7,514.9 L227.1,515.4 L229.5,515.8 L231.9,516.3 L234.4,516.7 L236.8,517.1 L239.2,517.5 L241.7,517.9 L244.1,518.3 L246.6,518.7 L249.0,519.1 L251.4,519.5 L253.9,519.8 L256.3,520.2 L258.8,520.6 L261.2,520.9 L263.7,521.2 L266.1,521.6 L268.6,521.9 L271.0,522.2 L273.5,522.5 L275.9,522.8 L278.4,523.1 L280.8,523.4 L283.3,523.7 L285.7,524.0 L288.2,524.3 L290.6,524.6 L293.1,524.8 L295.6,525.1 L298.0,525.4 L300.5,525.6 L302.9,525.9 L305.4,526.1 L307.9,526.4 L310.3,526.6 L312.8,526.8 L315.2,527.1 L317.7,527.3 L320.2,527.5 L322.6,527.7 L325.1,528.0 L327.6,528.2 L330.0,528.4 L332.5,528.6 L335.0,528.8 L337.4,529.0 L339.9,529.2 L342.4,529.4 L344.8,529.6 L347.3,529.8 L349.8,530.0 L352.2,530.2 L354.7,530.4 L357.2,530.6 L359.7,530.8 L362.1,531.0 L364.6,531.2 L367.1,531.4 L369.5,531.6 L372.0,531.8 L374.5,532.0 L376.9,532.1 L379.4,532.3 L381.9,532.5 L384.4,532.7 L386.8,532.9 L389.3,533.1 L391.8,533.3 L394.2,533.5 L396.7,533.7 L399.2,533.9 L401.6,534.1 L404.1,534.3 L406.6,534.5 L409.0,534.7 L411.5,534.9 L414.0,535.1 L416.4,535.4 L418.9,535.6 L421.4,535.8 L423.8,536.0 L426.3,536.2 L428.8,536.4 L431.2,536.7 L433.7,536.9 L436.2,537.1 L438.6,537.3 L441.1,537.6 L443.6,537.8 L446.0,538.0 L448.5,538.3 L451.0,538.5 L453.4,538.8 L455.9,539.0 L458.3,539.2 L460.8,539.5 L463.3,539.7 L465.7,540.0 L468.2,540.2 L470.6,540.5 L473.1,540.7 L475.6,541.0 L478.0,541.3 L480.5,541.5 L483.0,541.8 L485.4,542.1 L487.9,542.3 L490.3,542.6 L492.8,542.9 L495.2,543.1 L497.7,543.4 L500.2,543.7 L502.6,544.0 L505.1,544.2 L507.5,544.5 L510.0,544.8 L512.5,545.1 L514.9,545.4 L517.4,545.7 L519.8,546.0 L522.3,546.3 L524.7,546.6 L527.2,546.9 L529.6,547.2 L532.1,547.5 L534.6,547.8 L537.0,548.1 L539.5,548.4 L541.9,548.7 L544.4,549.0 L546.8,549.3 L549.3,549.6 L551.7,550.0 L554.2,550.3 L556.6,550.6 L559.1,550.9 L561.5,551.3 L564.0,551.6 L566.4,551.9 L568.9,552.2 L571.3,552.6 L573.8,552.9 L576.2,553.3 L578.7,553.6 L581.1,554.0 L583.6,554.3 L586.0,554.6 L588.5,555.0 L590.9,555.4 L593.4,555.7 L595.8,556.1 L598.3,556.4 L600.7,556.8 L603.2,557.2 L605.6,557.5 L608.1,557.9 L610.5,558.3 L613.0,558.6 L615.4,559.0 L617.9,559.4 L620.3,559.8 L622.8,560.2 L625.2,560.5 L627.6,560.9 L630.1,561.3 L632.5,561.7 L635.0,562.1 L637.4,562.5 L639.9,562.9 L642.3,563.3 L644.8,563.7 L647.2,564.1 L649.6,564.5 L652.1,564.9 L654.5,565.3 L657.0,565.7 L659.4,566.2 L661.9,566.6 L664.3,567.0" stroke="#e8600f" stroke-width="4" stroke-dasharray="4 4"/>
<path d="M169.2,469.5 L171.6,470.1 L174.1,470.7 L176.5,471.3 L179.0,471.8 L181.4,472.4 L183.9,473.0 L186.3,473.5 L188.8,474.1 L191.2,474.6 L193.7,475.2 L196.1,475.7 L198.6,476.3 L201.0,476.8 L203.5,477.3 L205.9,477.8 L208.4,478.4 L210.8,478.9 L213.3,479.4 L215.7,479.9 L218.2,480.3 L220.7,480.8 L223.1,481.3 L225.6,481.8 L228.1,482.2 L230.5,482.7 L233.0,483.1 L235.5,483.6 L237.9,484.0 L240.4,484.4 L242.9,484.8 L245.3,485.3 L247.8,485.7 L250.3,486.1 L252.8,486.5 L255.2,486.8 L257.7,487.2 L260.2,487.6 L262.7,487.9 L265.1,488.3 L267.6,488.6 L270.1,489.0 L272.6,489.3 L275.1,489.6 L277.6,489.9 L280.0,490.3 L282.5,490.6 L285.0,490.9 L287.5,491.1 L290.0,491.4 L292.5,491.7 L295.0,492.0 L297.5,492.3 L300.0,492.5 L302.5,492.8 L305.0,493.0 L307.4,493.3 L309.9,493.5 L312.4,493.8 L314.9,494.0 L317.4,494.3 L319.9,494.5 L322.4,494.7 L324.9,495.0 L327.4,495.2 L329.9,495.4 L332.4,495.6 L334.9,495.8 L337.4,496.0 L339.9,496.2 L342.4,496.4 L344.9,496.7 L347.4,496.9 L349.9,497.1 L352.4,497.3 L354.9,497.5 L357.4,497.6 L359.9,497.8 L362.4,498.0 L364.9,498.2 L367.4,498.4 L369.9,498.6 L372.4,498.8 L374.9,499.0 L377.4,499.2 L379.9,499.4 L382.4,499.6 L384.9,499.7 L387.4,499.9 L389.9,500.1 L392.4,500.3 L394.9,500.5 L397.4,500.7 L399.9,500.9 L402.4,501.0 L404.9,501.2 L407.4,501.4 L409.9,501.6 L412.4,501.8 L414.9,502.0 L417.4,502.2 L419.9,502.4 L422.4,502.5 L424.9,502.7 L427.4,502.9 L429.9,503.1 L432.4,503.3 L434.9,503.5 L437.4,503.7 L439.9,503.9 L442.4,504.1 L444.9,504.3 L447.4,504.4 L449.9,504.6 L452.4,504.8 L454.9,505.0 L457.4,505.2 L459.9,505.4 L462.4,505.6 L464.9,505.8 L467.4,506.0 L469.9,506.2 L472.4,506.5 L474.9,506.7 L477.4,506.9 L479.9,507.1 L482.4,507.3 L484.9,507.5 L487.4,507.7 L489.9,508.0 L492.4,508.2 L494.9,508.4 L497.4,508.6 L499.9,508.9 L502.4,509.1 L504.9,509.3 L507.4,509.6 L509.9,509.8 L512.4,510.0 L514.9,510.3 L517.4,510.5 L519.9,510.8 L522.4,511.0 L524.8,511.3 L527.3,511.6 L529.8,511.8 L532.3,512.1 L534.8,512.3 L537.3,512.6 L539.8,512.9 L542.3,513.2 L544.8,513.5 L547.3,513.7 L549.8,514.0 L552.3,514.3 L554.8,514.6 L557.2,514.9 L559.7,515.2 L562.2,515.5 L564.7,515.8 L567.2,516.1 L569.7,516.4 L572.2,516.8 L574.7,517.1 L577.2,517.4 L579.6,517.7 L582.1,518.1 L584.6,518.4 L587.1,518.7 L589.6,519.0 L592.1,519.4 L594.6,519.7 L597.1,520.0 L599.5,520.3 L602.0,520.7 L604.5,521.0 L607.0,521.3 L609.5,521.7 L612.0,522.0 L614.5,522.3 L617.0,522.6 L619.4,522.9 L621.9,523.3 L624.4,523.6 L626.9,523.9 L629.4,524.2 L631.9,524.5 L634.4,524.8 L636.9,525.1 L639.4,525.4 L641.9,525.7 L644.3,525.9 L646.8,526.2 L649.3,526.5 L651.8,526.8 L654.3,527.0 L656.8,527.3 L659.3,527.5 L661.8,527.8 L664.3,528.0" stroke="#e8600f" stroke-width="4" stroke-dasharray="4 4"/>
</g>
<path d="M104.5,59.5H708.5V314.5H104.5ZM104.5,430.5H708.5V685.5H104.5ZM154.5,59.5v6M154.5,314.5v-6M154.5,430.5v6M154.5,685.5v-6M255.5,59.5v6M255.5,314.5v-6M255.5,430.5v6M255.5,685.5v-6M356.5,59.5v6M356.5,314.5v-6M356.5,430.5v6M356.5,685.5v-6M456.5,59.5v6M456.5,314.5v-6M456.5,430.5v6M456.5,685.5v-6M557.5,59.5v6M557.5,314.5v-6M557.5,430.5v6M557.5,685.5v-6M658.5,59.5v6M658.5,314.5v-6M658.5,430.5v6M658.5,685.5v-6M104.5,239.5h6M708.5,239.5h-6M104.5,164.5h6M708.5,164.5h-6M104.5,89.5h6M708.5,89.5h-6M104.5,480.5h6M708.5,480.5h-6M104.5,530.5h6M708.5,530.5h-6M104.5,580.5h6M708.5,580.5h-6M104.5,630.5h6M708.5,630.5h-6M104.5,680.5h6M708.5,680.5h-6" stroke="#262626" stroke-width="1" fill="none"/>
<g font-family="'Liberation Sans', Arial, sans-serif" font-size="31" fill="#262626">
<text x="93" y="100.7" text-anchor="end">4.0</text>
<text x="93" y="175.7" text-anchor="end">3.5</text>
<text x="93" y="250.7" text-anchor="end">3.0</text>
<text x="93" y="325.7" text-anchor="end">2.5</text>
<text x="93" y="441.7" text-anchor="end">80</text>
<text x="93" y="491.7" text-anchor="end">60</text>
<text x="93" y="541.7" text-anchor="end">40</text>
<text x="93" y="591.7" text-anchor="end">20</text>
<text x="93" y="641.7" text-anchor="end">0</text>
<text x="93" y="691.7" text-anchor="end">-20</text>
<text x="154.8" y="727.5" text-anchor="middle">0</text>
<text x="255.5" y="727.5" text-anchor="middle">0.5</text>
<text x="356.2" y="727.5" text-anchor="middle">1</text>
<text x="456.8" y="727.5" text-anchor="middle">1.5</text>
<text x="557.5" y="727.5" text-anchor="middle">2</text>
<text x="658.2" y="727.5" text-anchor="middle">2.5</text>
<text x="314" y="771.8" textLength="185" lengthAdjust="spacingAndGlyphs">capacity / Ah</text>
<text transform="translate(34,263.5) rotate(-90)" textLength="150" lengthAdjust="spacingAndGlyphs">voltage / V</text>
<text transform="translate(34,673) rotate(-90)" textLength="233" lengthAdjust="spacingAndGlyphs">temperature / °C</text>
</g>
<rect x="358.5" y="262.5" width="328" height="220" fill="#fff" stroke="#262626" stroke-width="1"/>
<path d="M365.5,286.6H412.5" stroke="#454545" stroke-width="4"/>
<path d="M365.5,329.2H412.5" stroke="#6d6d6d" stroke-width="4"/>
<path d="M365.5,372.2H412.5" stroke="#959595" stroke-width="4"/>
<path d="M365.5,415.2H412.5" stroke="#bcbcbc" stroke-width="4"/>
<path d="M365,458.4H412.5" stroke="#e8600f" stroke-width="4" stroke-dasharray="4 4"/>
<g font-family="'Liberation Sans', Arial, sans-serif" font-size="31" fill="#000">
<text x="415.5" y="297.8" textLength="207.5" lengthAdjust="spacingAndGlyphs">-10.0A at -20°C</text>
<text x="415.5" y="340.4" textLength="182.5" lengthAdjust="spacingAndGlyphs">-10.0A at 0°C</text>
<text x="415.5" y="383.4" textLength="200.5" lengthAdjust="spacingAndGlyphs">-10.0A at 25°C</text>
<text x="415.5" y="426.4" textLength="200.5" lengthAdjust="spacingAndGlyphs">-10.0A at 40°C</text>
<text x="415.5" y="469.6" textLength="265" lengthAdjust="spacingAndGlyphs">Batemo Cell Model</text>
</g>
</svg>
</body></html>
